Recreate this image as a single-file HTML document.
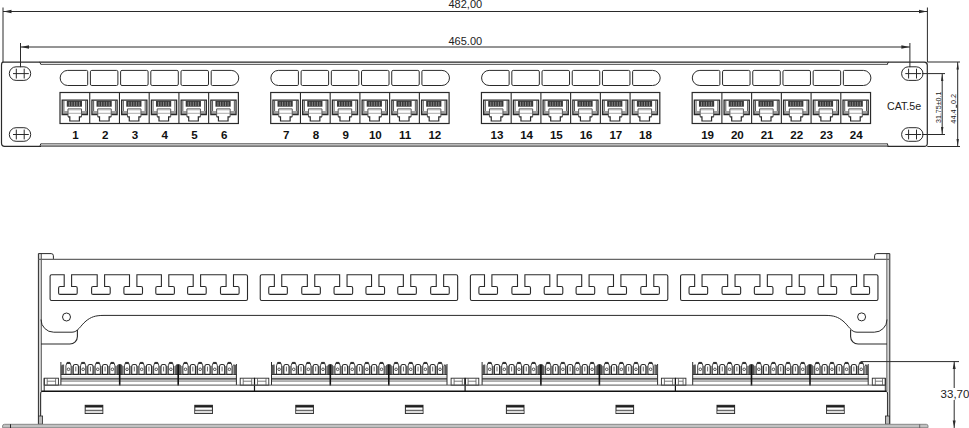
<!DOCTYPE html>
<html><head><meta charset="utf-8"><style>
html,body{margin:0;padding:0;background:#fff;width:969px;height:428px;overflow:hidden;}
svg{display:block;}
text{font-family:"Liberation Sans",sans-serif;fill:#222;}
</style></head><body>
<svg width="969" height="428" viewBox="0 0 969 428">
<line x1="3" y1="7.5" x2="3" y2="62.5" stroke="#2a2a2a" stroke-width="1"/>
<line x1="927.4" y1="7.5" x2="927.4" y2="62" stroke="#2a2a2a" stroke-width="1"/>
<line x1="3" y1="11.5" x2="927.4" y2="11.5" stroke="#2a2a2a" stroke-width="1"/>
<polygon points="3.5,11.5 11.5,9.8 11.5,13.2" fill="#2a2a2a"/>
<polygon points="927,11.5 919,9.8 919,13.2" fill="#2a2a2a"/>
<text x="465.3" y="7.8" font-size="11" font-weight="normal" text-anchor="middle" >482,00</text>
<line x1="20.5" y1="43" x2="20.5" y2="67.2" stroke="#2a2a2a" stroke-width="1"/>
<line x1="909.9" y1="43" x2="909.9" y2="67.2" stroke="#2a2a2a" stroke-width="1"/>
<line x1="20.5" y1="47" x2="909.9" y2="47" stroke="#2a2a2a" stroke-width="1"/>
<polygon points="21,47 29,45.3 29,48.7" fill="#2a2a2a"/>
<polygon points="909.4,47 901.4,45.3 901.4,48.7" fill="#2a2a2a"/>
<text x="465.3" y="44.6" font-size="11" font-weight="normal" text-anchor="middle" >465.00</text>
<rect x="40.5" y="62.6" width="847.5" height="1.6" rx="0" stroke="#2a2a2a" stroke-width="0" fill="#e2e2e2"/>
<rect x="40.5" y="143.8" width="847.5" height="2.4" rx="0" stroke="#2a2a2a" stroke-width="0" fill="#c4c4c4"/>
<path d="M3,62.1 H924.4 Q927.3,62.1 927.3,65.2 V143.2 Q927.3,146.4 924.3,146.4 H4.6 Q1.5,146.4 1.5,143.1 V65.3 Q1.5,62.1 3,62.1 Z" stroke="#2a2a2a" stroke-width="1.2" fill="none" />
<line x1="41" y1="64.5" x2="887.5" y2="64.5" stroke="#666" stroke-width="1.1"/>
<line x1="41" y1="143.6" x2="887.5" y2="143.6" stroke="#777" stroke-width="1.0"/>
<line x1="41" y1="146.4" x2="887.5" y2="146.4" stroke="#7a7a7a" stroke-width="1.3"/>
<path d="M39.3,62.1 Q40.3,62.4 40.8,64.5" stroke="#2a2a2a" stroke-width="1" fill="none" />
<path d="M888.8,62.1 Q887.8,62.4 887.3,64.5" stroke="#2a2a2a" stroke-width="1" fill="none" />
<path d="M39.3,146.4 Q40.3,146 40.8,143.6" stroke="#2a2a2a" stroke-width="1" fill="none" />
<path d="M888.8,146.4 Q887.8,146 887.3,143.6" stroke="#2a2a2a" stroke-width="1" fill="none" />
<rect x="9.3" y="66.8" width="21.4" height="13.6" rx="6.8" stroke="#2a2a2a" stroke-width="1" fill="none"/>
<line x1="13" y1="73.6" x2="28.8" y2="73.6" stroke="#2a2a2a" stroke-width="1"/>
<line x1="16.3" y1="68.7" x2="16.3" y2="78.5" stroke="#2a2a2a" stroke-width="1"/>
<line x1="24.2" y1="68.7" x2="24.2" y2="78.5" stroke="#2a2a2a" stroke-width="1"/>
<rect x="9.3" y="127.7" width="21.4" height="13.6" rx="6.8" stroke="#2a2a2a" stroke-width="1" fill="none"/>
<line x1="13" y1="134.5" x2="28.8" y2="134.5" stroke="#2a2a2a" stroke-width="1"/>
<line x1="16.3" y1="129.6" x2="16.3" y2="139.4" stroke="#2a2a2a" stroke-width="1"/>
<line x1="24.2" y1="129.6" x2="24.2" y2="139.4" stroke="#2a2a2a" stroke-width="1"/>
<rect x="901.6" y="66.8" width="21.4" height="13.6" rx="6.8" stroke="#2a2a2a" stroke-width="1" fill="none"/>
<line x1="905.3" y1="73.6" x2="921.1" y2="73.6" stroke="#2a2a2a" stroke-width="1"/>
<line x1="908.6" y1="68.7" x2="908.6" y2="78.5" stroke="#2a2a2a" stroke-width="1"/>
<line x1="916.5" y1="68.7" x2="916.5" y2="78.5" stroke="#2a2a2a" stroke-width="1"/>
<rect x="901.6" y="127.7" width="21.4" height="13.6" rx="6.8" stroke="#2a2a2a" stroke-width="1" fill="none"/>
<line x1="905.3" y1="134.5" x2="921.1" y2="134.5" stroke="#2a2a2a" stroke-width="1"/>
<line x1="908.6" y1="129.6" x2="908.6" y2="139.4" stroke="#2a2a2a" stroke-width="1"/>
<line x1="916.5" y1="129.6" x2="916.5" y2="139.4" stroke="#2a2a2a" stroke-width="1"/>
<line x1="922" y1="73.6" x2="945" y2="73.6" stroke="#2a2a2a" stroke-width="1"/>
<line x1="922" y1="134.5" x2="945" y2="134.5" stroke="#2a2a2a" stroke-width="1"/>
<line x1="927.3" y1="62" x2="960" y2="62" stroke="#2a2a2a" stroke-width="1"/>
<line x1="927.3" y1="146.5" x2="960" y2="146.5" stroke="#2a2a2a" stroke-width="1"/>
<line x1="942.2" y1="73.6" x2="942.2" y2="134.5" stroke="#2a2a2a" stroke-width="1"/>
<polygon points="942.2,74.1 941,81.1 943.4,81.1" fill="#2a2a2a"/>
<polygon points="942.2,134 941,127 943.4,127" fill="#2a2a2a"/>
<line x1="957.7" y1="62" x2="957.7" y2="146.5" stroke="#2a2a2a" stroke-width="1"/>
<polygon points="957.7,62.5 956.5,69.5 958.9,69.5" fill="#2a2a2a"/>
<polygon points="957.7,146 956.5,139 958.9,139" fill="#2a2a2a"/>
<text transform="translate(941.2,122.9) rotate(-90) scale(0.88,1)" font-size="8" text-anchor="start">31.75&#177;0.1</text>
<text transform="translate(955.6,123.7) rotate(-90) scale(0.92,1)" font-size="8" text-anchor="start">44.4</text>
<text transform="translate(955.6,103.9) rotate(-90) scale(0.9,1)" font-size="8" text-anchor="start">0.2</text>
<line x1="956.6" y1="104.8" x2="956.6" y2="107.8" stroke="#555" stroke-width="1.6"/>
<text x="887" y="109.7" font-size="11" font-weight="normal" text-anchor="start" textLength="34.2" lengthAdjust="spacingAndGlyphs">CAT.5e</text>
<path d="M67.7,70.4 H86.5 Q87.7,70.4 87.7,71.6 V84.3 Q87.7,85.5 86.5,85.5 H67.7 A7.55,7.55 0 0 1 67.7,70.4 Z" stroke="#2a2a2a" stroke-width="1" fill="none" />
<rect x="90.4" y="70.4" width="27.5" height="15.1" rx="1.4" stroke="#2a2a2a" stroke-width="1" fill="none"/>
<rect x="120.6" y="70.4" width="27.5" height="15.1" rx="1.4" stroke="#2a2a2a" stroke-width="1" fill="none"/>
<rect x="150.8" y="70.4" width="27.5" height="15.1" rx="1.4" stroke="#2a2a2a" stroke-width="1" fill="none"/>
<rect x="181" y="70.4" width="27.5" height="15.1" rx="1.4" stroke="#2a2a2a" stroke-width="1" fill="none"/>
<path d="M212.4,70.4 H231.2 A7.55,7.55 0 0 1 231.2,85.5 H212.4 Q211.2,85.5 211.2,84.3 V71.6 Q211.2,70.4 212.4,70.4 Z" stroke="#2a2a2a" stroke-width="1" fill="none" />
<rect x="60" y="92.5" width="178.38" height="31" rx="0" stroke="#2a2a2a" stroke-width="1.2" fill="none"/>
<line x1="89.73" y1="92.5" x2="89.73" y2="123.5" stroke="#2a2a2a" stroke-width="1.1"/>
<line x1="119.46" y1="92.5" x2="119.46" y2="123.5" stroke="#2a2a2a" stroke-width="1.1"/>
<line x1="149.19" y1="92.5" x2="149.19" y2="123.5" stroke="#2a2a2a" stroke-width="1.1"/>
<line x1="178.92" y1="92.5" x2="178.92" y2="123.5" stroke="#2a2a2a" stroke-width="1.1"/>
<line x1="208.65" y1="92.5" x2="208.65" y2="123.5" stroke="#2a2a2a" stroke-width="1.1"/>
<rect x="62.6" y="111" width="5.2" height="3" rx="0" stroke="#2a2a2a" stroke-width="0" fill="#a0a0a0"/>
<rect x="81.6" y="111" width="5.4" height="3" rx="0" stroke="#2a2a2a" stroke-width="0" fill="#a0a0a0"/>
<rect x="66.8" y="100.9" width="15.2" height="5.8" rx="0" stroke="#2a2a2a" stroke-width="0" fill="#383838"/>
<line x1="69.33" y1="101.8" x2="69.33" y2="106.2" stroke="#9a9a9a" stroke-width="0.8"/>
<line x1="71.87" y1="101.8" x2="71.87" y2="106.2" stroke="#9a9a9a" stroke-width="0.8"/>
<line x1="74.4" y1="101.8" x2="74.4" y2="106.2" stroke="#9a9a9a" stroke-width="0.8"/>
<line x1="76.93" y1="101.8" x2="76.93" y2="106.2" stroke="#9a9a9a" stroke-width="0.8"/>
<line x1="79.47" y1="101.8" x2="79.47" y2="106.2" stroke="#9a9a9a" stroke-width="0.8"/>
<path d="M68,114.5 H62.2 V100.1 H87.4 V114.5 H81.5" stroke="#2a2a2a" stroke-width="1.3" fill="none" />
<line x1="63.9" y1="100.6" x2="63.9" y2="111" stroke="#2a2a2a" stroke-width="0.8"/>
<line x1="85.7" y1="100.6" x2="85.7" y2="111" stroke="#2a2a2a" stroke-width="0.8"/>
<path d="M68,116.8 V108.9 H81.5 V116.8" stroke="#555" stroke-width="1.0" fill="none" />
<path d="M68,116.8 H69.8 V121.0 H79.4 V116.8 H81.5" stroke="#2a2a2a" stroke-width="1.2" fill="none" />
<line x1="68" y1="113.3" x2="81.5" y2="113.3" stroke="#888" stroke-width="0.7"/>
<line x1="68.6" y1="110" x2="80.9" y2="110" stroke="#aaa" stroke-width="0.6"/>
<text x="75.46" y="138.9" font-size="11.6" font-weight="bold" text-anchor="middle" style="fill:#111">1</text>
<rect x="92.33" y="111" width="5.2" height="3" rx="0" stroke="#2a2a2a" stroke-width="0" fill="#a0a0a0"/>
<rect x="111.33" y="111" width="5.4" height="3" rx="0" stroke="#2a2a2a" stroke-width="0" fill="#a0a0a0"/>
<rect x="96.53" y="100.9" width="15.2" height="5.8" rx="0" stroke="#2a2a2a" stroke-width="0" fill="#383838"/>
<line x1="99.06" y1="101.8" x2="99.06" y2="106.2" stroke="#9a9a9a" stroke-width="0.8"/>
<line x1="101.6" y1="101.8" x2="101.6" y2="106.2" stroke="#9a9a9a" stroke-width="0.8"/>
<line x1="104.13" y1="101.8" x2="104.13" y2="106.2" stroke="#9a9a9a" stroke-width="0.8"/>
<line x1="106.66" y1="101.8" x2="106.66" y2="106.2" stroke="#9a9a9a" stroke-width="0.8"/>
<line x1="109.2" y1="101.8" x2="109.2" y2="106.2" stroke="#9a9a9a" stroke-width="0.8"/>
<path d="M97.73,114.5 H91.93 V100.1 H117.13 V114.5 H111.23" stroke="#2a2a2a" stroke-width="1.3" fill="none" />
<line x1="93.63" y1="100.6" x2="93.63" y2="111" stroke="#2a2a2a" stroke-width="0.8"/>
<line x1="115.43" y1="100.6" x2="115.43" y2="111" stroke="#2a2a2a" stroke-width="0.8"/>
<path d="M97.73,116.8 V108.9 H111.23 V116.8" stroke="#555" stroke-width="1.0" fill="none" />
<path d="M97.73,116.8 H99.53 V121.0 H109.13 V116.8 H111.23" stroke="#2a2a2a" stroke-width="1.2" fill="none" />
<line x1="97.73" y1="113.3" x2="111.23" y2="113.3" stroke="#888" stroke-width="0.7"/>
<line x1="98.33" y1="110" x2="110.63" y2="110" stroke="#aaa" stroke-width="0.6"/>
<text x="105.19" y="138.9" font-size="11.6" font-weight="bold" text-anchor="middle" style="fill:#111">2</text>
<rect x="122.06" y="111" width="5.2" height="3" rx="0" stroke="#2a2a2a" stroke-width="0" fill="#a0a0a0"/>
<rect x="141.06" y="111" width="5.4" height="3" rx="0" stroke="#2a2a2a" stroke-width="0" fill="#a0a0a0"/>
<rect x="126.26" y="100.9" width="15.2" height="5.8" rx="0" stroke="#2a2a2a" stroke-width="0" fill="#383838"/>
<line x1="128.79" y1="101.8" x2="128.79" y2="106.2" stroke="#9a9a9a" stroke-width="0.8"/>
<line x1="131.33" y1="101.8" x2="131.33" y2="106.2" stroke="#9a9a9a" stroke-width="0.8"/>
<line x1="133.86" y1="101.8" x2="133.86" y2="106.2" stroke="#9a9a9a" stroke-width="0.8"/>
<line x1="136.39" y1="101.8" x2="136.39" y2="106.2" stroke="#9a9a9a" stroke-width="0.8"/>
<line x1="138.93" y1="101.8" x2="138.93" y2="106.2" stroke="#9a9a9a" stroke-width="0.8"/>
<path d="M127.46,114.5 H121.66 V100.1 H146.86 V114.5 H140.96" stroke="#2a2a2a" stroke-width="1.3" fill="none" />
<line x1="123.36" y1="100.6" x2="123.36" y2="111" stroke="#2a2a2a" stroke-width="0.8"/>
<line x1="145.16" y1="100.6" x2="145.16" y2="111" stroke="#2a2a2a" stroke-width="0.8"/>
<path d="M127.46,116.8 V108.9 H140.96 V116.8" stroke="#555" stroke-width="1.0" fill="none" />
<path d="M127.46,116.8 H129.26 V121.0 H138.86 V116.8 H140.96" stroke="#2a2a2a" stroke-width="1.2" fill="none" />
<line x1="127.46" y1="113.3" x2="140.96" y2="113.3" stroke="#888" stroke-width="0.7"/>
<line x1="128.06" y1="110" x2="140.36" y2="110" stroke="#aaa" stroke-width="0.6"/>
<text x="134.93" y="138.9" font-size="11.6" font-weight="bold" text-anchor="middle" style="fill:#111">3</text>
<rect x="151.79" y="111" width="5.2" height="3" rx="0" stroke="#2a2a2a" stroke-width="0" fill="#a0a0a0"/>
<rect x="170.79" y="111" width="5.4" height="3" rx="0" stroke="#2a2a2a" stroke-width="0" fill="#a0a0a0"/>
<rect x="155.99" y="100.9" width="15.2" height="5.8" rx="0" stroke="#2a2a2a" stroke-width="0" fill="#383838"/>
<line x1="158.52" y1="101.8" x2="158.52" y2="106.2" stroke="#9a9a9a" stroke-width="0.8"/>
<line x1="161.06" y1="101.8" x2="161.06" y2="106.2" stroke="#9a9a9a" stroke-width="0.8"/>
<line x1="163.59" y1="101.8" x2="163.59" y2="106.2" stroke="#9a9a9a" stroke-width="0.8"/>
<line x1="166.12" y1="101.8" x2="166.12" y2="106.2" stroke="#9a9a9a" stroke-width="0.8"/>
<line x1="168.66" y1="101.8" x2="168.66" y2="106.2" stroke="#9a9a9a" stroke-width="0.8"/>
<path d="M157.19,114.5 H151.39 V100.1 H176.59 V114.5 H170.69" stroke="#2a2a2a" stroke-width="1.3" fill="none" />
<line x1="153.09" y1="100.6" x2="153.09" y2="111" stroke="#2a2a2a" stroke-width="0.8"/>
<line x1="174.89" y1="100.6" x2="174.89" y2="111" stroke="#2a2a2a" stroke-width="0.8"/>
<path d="M157.19,116.8 V108.9 H170.69 V116.8" stroke="#555" stroke-width="1.0" fill="none" />
<path d="M157.19,116.8 H158.99 V121.0 H168.59 V116.8 H170.69" stroke="#2a2a2a" stroke-width="1.2" fill="none" />
<line x1="157.19" y1="113.3" x2="170.69" y2="113.3" stroke="#888" stroke-width="0.7"/>
<line x1="157.79" y1="110" x2="170.09" y2="110" stroke="#aaa" stroke-width="0.6"/>
<text x="164.66" y="138.9" font-size="11.6" font-weight="bold" text-anchor="middle" style="fill:#111">4</text>
<rect x="181.52" y="111" width="5.2" height="3" rx="0" stroke="#2a2a2a" stroke-width="0" fill="#a0a0a0"/>
<rect x="200.52" y="111" width="5.4" height="3" rx="0" stroke="#2a2a2a" stroke-width="0" fill="#a0a0a0"/>
<rect x="185.72" y="100.9" width="15.2" height="5.8" rx="0" stroke="#2a2a2a" stroke-width="0" fill="#383838"/>
<line x1="188.25" y1="101.8" x2="188.25" y2="106.2" stroke="#9a9a9a" stroke-width="0.8"/>
<line x1="190.79" y1="101.8" x2="190.79" y2="106.2" stroke="#9a9a9a" stroke-width="0.8"/>
<line x1="193.32" y1="101.8" x2="193.32" y2="106.2" stroke="#9a9a9a" stroke-width="0.8"/>
<line x1="195.85" y1="101.8" x2="195.85" y2="106.2" stroke="#9a9a9a" stroke-width="0.8"/>
<line x1="198.39" y1="101.8" x2="198.39" y2="106.2" stroke="#9a9a9a" stroke-width="0.8"/>
<path d="M186.92,114.5 H181.12 V100.1 H206.32 V114.5 H200.42" stroke="#2a2a2a" stroke-width="1.3" fill="none" />
<line x1="182.82" y1="100.6" x2="182.82" y2="111" stroke="#2a2a2a" stroke-width="0.8"/>
<line x1="204.62" y1="100.6" x2="204.62" y2="111" stroke="#2a2a2a" stroke-width="0.8"/>
<path d="M186.92,116.8 V108.9 H200.42 V116.8" stroke="#555" stroke-width="1.0" fill="none" />
<path d="M186.92,116.8 H188.72 V121.0 H198.32 V116.8 H200.42" stroke="#2a2a2a" stroke-width="1.2" fill="none" />
<line x1="186.92" y1="113.3" x2="200.42" y2="113.3" stroke="#888" stroke-width="0.7"/>
<line x1="187.52" y1="110" x2="199.82" y2="110" stroke="#aaa" stroke-width="0.6"/>
<text x="194.39" y="138.9" font-size="11.6" font-weight="bold" text-anchor="middle" style="fill:#111">5</text>
<rect x="211.25" y="111" width="5.2" height="3" rx="0" stroke="#2a2a2a" stroke-width="0" fill="#a0a0a0"/>
<rect x="230.25" y="111" width="5.4" height="3" rx="0" stroke="#2a2a2a" stroke-width="0" fill="#a0a0a0"/>
<rect x="215.45" y="100.9" width="15.2" height="5.8" rx="0" stroke="#2a2a2a" stroke-width="0" fill="#383838"/>
<line x1="217.98" y1="101.8" x2="217.98" y2="106.2" stroke="#9a9a9a" stroke-width="0.8"/>
<line x1="220.52" y1="101.8" x2="220.52" y2="106.2" stroke="#9a9a9a" stroke-width="0.8"/>
<line x1="223.05" y1="101.8" x2="223.05" y2="106.2" stroke="#9a9a9a" stroke-width="0.8"/>
<line x1="225.58" y1="101.8" x2="225.58" y2="106.2" stroke="#9a9a9a" stroke-width="0.8"/>
<line x1="228.12" y1="101.8" x2="228.12" y2="106.2" stroke="#9a9a9a" stroke-width="0.8"/>
<path d="M216.65,114.5 H210.85 V100.1 H236.05 V114.5 H230.15" stroke="#2a2a2a" stroke-width="1.3" fill="none" />
<line x1="212.55" y1="100.6" x2="212.55" y2="111" stroke="#2a2a2a" stroke-width="0.8"/>
<line x1="234.35" y1="100.6" x2="234.35" y2="111" stroke="#2a2a2a" stroke-width="0.8"/>
<path d="M216.65,116.8 V108.9 H230.15 V116.8" stroke="#555" stroke-width="1.0" fill="none" />
<path d="M216.65,116.8 H218.45 V121.0 H228.05 V116.8 H230.15" stroke="#2a2a2a" stroke-width="1.2" fill="none" />
<line x1="216.65" y1="113.3" x2="230.15" y2="113.3" stroke="#888" stroke-width="0.7"/>
<line x1="217.25" y1="110" x2="229.55" y2="110" stroke="#aaa" stroke-width="0.6"/>
<text x="224.12" y="138.9" font-size="11.6" font-weight="bold" text-anchor="middle" style="fill:#111">6</text>
<path d="M278.42,70.4 H297.22 Q298.42,70.4 298.42,71.6 V84.3 Q298.42,85.5 297.22,85.5 H278.42 A7.55,7.55 0 0 1 278.42,70.4 Z" stroke="#2a2a2a" stroke-width="1" fill="none" />
<rect x="301.12" y="70.4" width="27.5" height="15.1" rx="1.4" stroke="#2a2a2a" stroke-width="1" fill="none"/>
<rect x="331.32" y="70.4" width="27.5" height="15.1" rx="1.4" stroke="#2a2a2a" stroke-width="1" fill="none"/>
<rect x="361.52" y="70.4" width="27.5" height="15.1" rx="1.4" stroke="#2a2a2a" stroke-width="1" fill="none"/>
<rect x="391.72" y="70.4" width="27.5" height="15.1" rx="1.4" stroke="#2a2a2a" stroke-width="1" fill="none"/>
<path d="M423.12,70.4 H441.92 A7.55,7.55 0 0 1 441.92,85.5 H423.12 Q421.92,85.5 421.92,84.3 V71.6 Q421.92,70.4 423.12,70.4 Z" stroke="#2a2a2a" stroke-width="1" fill="none" />
<rect x="270.72" y="92.5" width="178.38" height="31" rx="0" stroke="#2a2a2a" stroke-width="1.2" fill="none"/>
<line x1="300.45" y1="92.5" x2="300.45" y2="123.5" stroke="#2a2a2a" stroke-width="1.1"/>
<line x1="330.18" y1="92.5" x2="330.18" y2="123.5" stroke="#2a2a2a" stroke-width="1.1"/>
<line x1="359.91" y1="92.5" x2="359.91" y2="123.5" stroke="#2a2a2a" stroke-width="1.1"/>
<line x1="389.64" y1="92.5" x2="389.64" y2="123.5" stroke="#2a2a2a" stroke-width="1.1"/>
<line x1="419.37" y1="92.5" x2="419.37" y2="123.5" stroke="#2a2a2a" stroke-width="1.1"/>
<rect x="273.32" y="111" width="5.2" height="3" rx="0" stroke="#2a2a2a" stroke-width="0" fill="#a0a0a0"/>
<rect x="292.32" y="111" width="5.4" height="3" rx="0" stroke="#2a2a2a" stroke-width="0" fill="#a0a0a0"/>
<rect x="277.52" y="100.9" width="15.2" height="5.8" rx="0" stroke="#2a2a2a" stroke-width="0" fill="#383838"/>
<line x1="280.05" y1="101.8" x2="280.05" y2="106.2" stroke="#9a9a9a" stroke-width="0.8"/>
<line x1="282.59" y1="101.8" x2="282.59" y2="106.2" stroke="#9a9a9a" stroke-width="0.8"/>
<line x1="285.12" y1="101.8" x2="285.12" y2="106.2" stroke="#9a9a9a" stroke-width="0.8"/>
<line x1="287.65" y1="101.8" x2="287.65" y2="106.2" stroke="#9a9a9a" stroke-width="0.8"/>
<line x1="290.19" y1="101.8" x2="290.19" y2="106.2" stroke="#9a9a9a" stroke-width="0.8"/>
<path d="M278.72,114.5 H272.92 V100.1 H298.12 V114.5 H292.22" stroke="#2a2a2a" stroke-width="1.3" fill="none" />
<line x1="274.62" y1="100.6" x2="274.62" y2="111" stroke="#2a2a2a" stroke-width="0.8"/>
<line x1="296.42" y1="100.6" x2="296.42" y2="111" stroke="#2a2a2a" stroke-width="0.8"/>
<path d="M278.72,116.8 V108.9 H292.22 V116.8" stroke="#555" stroke-width="1.0" fill="none" />
<path d="M278.72,116.8 H280.52 V121.0 H290.12 V116.8 H292.22" stroke="#2a2a2a" stroke-width="1.2" fill="none" />
<line x1="278.72" y1="113.3" x2="292.22" y2="113.3" stroke="#888" stroke-width="0.7"/>
<line x1="279.32" y1="110" x2="291.62" y2="110" stroke="#aaa" stroke-width="0.6"/>
<text x="286.19" y="138.9" font-size="11.6" font-weight="bold" text-anchor="middle" style="fill:#111">7</text>
<rect x="303.05" y="111" width="5.2" height="3" rx="0" stroke="#2a2a2a" stroke-width="0" fill="#a0a0a0"/>
<rect x="322.05" y="111" width="5.4" height="3" rx="0" stroke="#2a2a2a" stroke-width="0" fill="#a0a0a0"/>
<rect x="307.25" y="100.9" width="15.2" height="5.8" rx="0" stroke="#2a2a2a" stroke-width="0" fill="#383838"/>
<line x1="309.78" y1="101.8" x2="309.78" y2="106.2" stroke="#9a9a9a" stroke-width="0.8"/>
<line x1="312.32" y1="101.8" x2="312.32" y2="106.2" stroke="#9a9a9a" stroke-width="0.8"/>
<line x1="314.85" y1="101.8" x2="314.85" y2="106.2" stroke="#9a9a9a" stroke-width="0.8"/>
<line x1="317.38" y1="101.8" x2="317.38" y2="106.2" stroke="#9a9a9a" stroke-width="0.8"/>
<line x1="319.92" y1="101.8" x2="319.92" y2="106.2" stroke="#9a9a9a" stroke-width="0.8"/>
<path d="M308.45,114.5 H302.65 V100.1 H327.85 V114.5 H321.95" stroke="#2a2a2a" stroke-width="1.3" fill="none" />
<line x1="304.35" y1="100.6" x2="304.35" y2="111" stroke="#2a2a2a" stroke-width="0.8"/>
<line x1="326.15" y1="100.6" x2="326.15" y2="111" stroke="#2a2a2a" stroke-width="0.8"/>
<path d="M308.45,116.8 V108.9 H321.95 V116.8" stroke="#555" stroke-width="1.0" fill="none" />
<path d="M308.45,116.8 H310.25 V121.0 H319.85 V116.8 H321.95" stroke="#2a2a2a" stroke-width="1.2" fill="none" />
<line x1="308.45" y1="113.3" x2="321.95" y2="113.3" stroke="#888" stroke-width="0.7"/>
<line x1="309.05" y1="110" x2="321.35" y2="110" stroke="#aaa" stroke-width="0.6"/>
<text x="315.92" y="138.9" font-size="11.6" font-weight="bold" text-anchor="middle" style="fill:#111">8</text>
<rect x="332.78" y="111" width="5.2" height="3" rx="0" stroke="#2a2a2a" stroke-width="0" fill="#a0a0a0"/>
<rect x="351.78" y="111" width="5.4" height="3" rx="0" stroke="#2a2a2a" stroke-width="0" fill="#a0a0a0"/>
<rect x="336.98" y="100.9" width="15.2" height="5.8" rx="0" stroke="#2a2a2a" stroke-width="0" fill="#383838"/>
<line x1="339.51" y1="101.8" x2="339.51" y2="106.2" stroke="#9a9a9a" stroke-width="0.8"/>
<line x1="342.05" y1="101.8" x2="342.05" y2="106.2" stroke="#9a9a9a" stroke-width="0.8"/>
<line x1="344.58" y1="101.8" x2="344.58" y2="106.2" stroke="#9a9a9a" stroke-width="0.8"/>
<line x1="347.11" y1="101.8" x2="347.11" y2="106.2" stroke="#9a9a9a" stroke-width="0.8"/>
<line x1="349.65" y1="101.8" x2="349.65" y2="106.2" stroke="#9a9a9a" stroke-width="0.8"/>
<path d="M338.18,114.5 H332.38 V100.1 H357.58 V114.5 H351.68" stroke="#2a2a2a" stroke-width="1.3" fill="none" />
<line x1="334.08" y1="100.6" x2="334.08" y2="111" stroke="#2a2a2a" stroke-width="0.8"/>
<line x1="355.88" y1="100.6" x2="355.88" y2="111" stroke="#2a2a2a" stroke-width="0.8"/>
<path d="M338.18,116.8 V108.9 H351.68 V116.8" stroke="#555" stroke-width="1.0" fill="none" />
<path d="M338.18,116.8 H339.98 V121.0 H349.58 V116.8 H351.68" stroke="#2a2a2a" stroke-width="1.2" fill="none" />
<line x1="338.18" y1="113.3" x2="351.68" y2="113.3" stroke="#888" stroke-width="0.7"/>
<line x1="338.78" y1="110" x2="351.08" y2="110" stroke="#aaa" stroke-width="0.6"/>
<text x="345.65" y="138.9" font-size="11.6" font-weight="bold" text-anchor="middle" style="fill:#111">9</text>
<rect x="362.51" y="111" width="5.2" height="3" rx="0" stroke="#2a2a2a" stroke-width="0" fill="#a0a0a0"/>
<rect x="381.51" y="111" width="5.4" height="3" rx="0" stroke="#2a2a2a" stroke-width="0" fill="#a0a0a0"/>
<rect x="366.71" y="100.9" width="15.2" height="5.8" rx="0" stroke="#2a2a2a" stroke-width="0" fill="#383838"/>
<line x1="369.24" y1="101.8" x2="369.24" y2="106.2" stroke="#9a9a9a" stroke-width="0.8"/>
<line x1="371.78" y1="101.8" x2="371.78" y2="106.2" stroke="#9a9a9a" stroke-width="0.8"/>
<line x1="374.31" y1="101.8" x2="374.31" y2="106.2" stroke="#9a9a9a" stroke-width="0.8"/>
<line x1="376.84" y1="101.8" x2="376.84" y2="106.2" stroke="#9a9a9a" stroke-width="0.8"/>
<line x1="379.38" y1="101.8" x2="379.38" y2="106.2" stroke="#9a9a9a" stroke-width="0.8"/>
<path d="M367.91,114.5 H362.11 V100.1 H387.31 V114.5 H381.41" stroke="#2a2a2a" stroke-width="1.3" fill="none" />
<line x1="363.81" y1="100.6" x2="363.81" y2="111" stroke="#2a2a2a" stroke-width="0.8"/>
<line x1="385.61" y1="100.6" x2="385.61" y2="111" stroke="#2a2a2a" stroke-width="0.8"/>
<path d="M367.91,116.8 V108.9 H381.41 V116.8" stroke="#555" stroke-width="1.0" fill="none" />
<path d="M367.91,116.8 H369.71 V121.0 H379.31 V116.8 H381.41" stroke="#2a2a2a" stroke-width="1.2" fill="none" />
<line x1="367.91" y1="113.3" x2="381.41" y2="113.3" stroke="#888" stroke-width="0.7"/>
<line x1="368.51" y1="110" x2="380.81" y2="110" stroke="#aaa" stroke-width="0.6"/>
<text x="375.38" y="138.9" font-size="11.6" font-weight="bold" text-anchor="middle" style="fill:#111">10</text>
<rect x="392.24" y="111" width="5.2" height="3" rx="0" stroke="#2a2a2a" stroke-width="0" fill="#a0a0a0"/>
<rect x="411.24" y="111" width="5.4" height="3" rx="0" stroke="#2a2a2a" stroke-width="0" fill="#a0a0a0"/>
<rect x="396.44" y="100.9" width="15.2" height="5.8" rx="0" stroke="#2a2a2a" stroke-width="0" fill="#383838"/>
<line x1="398.97" y1="101.8" x2="398.97" y2="106.2" stroke="#9a9a9a" stroke-width="0.8"/>
<line x1="401.51" y1="101.8" x2="401.51" y2="106.2" stroke="#9a9a9a" stroke-width="0.8"/>
<line x1="404.04" y1="101.8" x2="404.04" y2="106.2" stroke="#9a9a9a" stroke-width="0.8"/>
<line x1="406.57" y1="101.8" x2="406.57" y2="106.2" stroke="#9a9a9a" stroke-width="0.8"/>
<line x1="409.11" y1="101.8" x2="409.11" y2="106.2" stroke="#9a9a9a" stroke-width="0.8"/>
<path d="M397.64,114.5 H391.84 V100.1 H417.04 V114.5 H411.14" stroke="#2a2a2a" stroke-width="1.3" fill="none" />
<line x1="393.54" y1="100.6" x2="393.54" y2="111" stroke="#2a2a2a" stroke-width="0.8"/>
<line x1="415.34" y1="100.6" x2="415.34" y2="111" stroke="#2a2a2a" stroke-width="0.8"/>
<path d="M397.64,116.8 V108.9 H411.14 V116.8" stroke="#555" stroke-width="1.0" fill="none" />
<path d="M397.64,116.8 H399.44 V121.0 H409.04 V116.8 H411.14" stroke="#2a2a2a" stroke-width="1.2" fill="none" />
<line x1="397.64" y1="113.3" x2="411.14" y2="113.3" stroke="#888" stroke-width="0.7"/>
<line x1="398.24" y1="110" x2="410.54" y2="110" stroke="#aaa" stroke-width="0.6"/>
<text x="405.11" y="138.9" font-size="11.6" font-weight="bold" text-anchor="middle" style="fill:#111">11</text>
<rect x="421.97" y="111" width="5.2" height="3" rx="0" stroke="#2a2a2a" stroke-width="0" fill="#a0a0a0"/>
<rect x="440.97" y="111" width="5.4" height="3" rx="0" stroke="#2a2a2a" stroke-width="0" fill="#a0a0a0"/>
<rect x="426.17" y="100.9" width="15.2" height="5.8" rx="0" stroke="#2a2a2a" stroke-width="0" fill="#383838"/>
<line x1="428.7" y1="101.8" x2="428.7" y2="106.2" stroke="#9a9a9a" stroke-width="0.8"/>
<line x1="431.24" y1="101.8" x2="431.24" y2="106.2" stroke="#9a9a9a" stroke-width="0.8"/>
<line x1="433.77" y1="101.8" x2="433.77" y2="106.2" stroke="#9a9a9a" stroke-width="0.8"/>
<line x1="436.3" y1="101.8" x2="436.3" y2="106.2" stroke="#9a9a9a" stroke-width="0.8"/>
<line x1="438.84" y1="101.8" x2="438.84" y2="106.2" stroke="#9a9a9a" stroke-width="0.8"/>
<path d="M427.37,114.5 H421.57 V100.1 H446.77 V114.5 H440.87" stroke="#2a2a2a" stroke-width="1.3" fill="none" />
<line x1="423.27" y1="100.6" x2="423.27" y2="111" stroke="#2a2a2a" stroke-width="0.8"/>
<line x1="445.07" y1="100.6" x2="445.07" y2="111" stroke="#2a2a2a" stroke-width="0.8"/>
<path d="M427.37,116.8 V108.9 H440.87 V116.8" stroke="#555" stroke-width="1.0" fill="none" />
<path d="M427.37,116.8 H429.17 V121.0 H438.77 V116.8 H440.87" stroke="#2a2a2a" stroke-width="1.2" fill="none" />
<line x1="427.37" y1="113.3" x2="440.87" y2="113.3" stroke="#888" stroke-width="0.7"/>
<line x1="427.97" y1="110" x2="440.27" y2="110" stroke="#aaa" stroke-width="0.6"/>
<text x="434.84" y="138.9" font-size="11.6" font-weight="bold" text-anchor="middle" style="fill:#111">12</text>
<path d="M489.14,70.4 H507.94 Q509.14,70.4 509.14,71.6 V84.3 Q509.14,85.5 507.94,85.5 H489.14 A7.55,7.55 0 0 1 489.14,70.4 Z" stroke="#2a2a2a" stroke-width="1" fill="none" />
<rect x="511.84" y="70.4" width="27.5" height="15.1" rx="1.4" stroke="#2a2a2a" stroke-width="1" fill="none"/>
<rect x="542.04" y="70.4" width="27.5" height="15.1" rx="1.4" stroke="#2a2a2a" stroke-width="1" fill="none"/>
<rect x="572.24" y="70.4" width="27.5" height="15.1" rx="1.4" stroke="#2a2a2a" stroke-width="1" fill="none"/>
<rect x="602.44" y="70.4" width="27.5" height="15.1" rx="1.4" stroke="#2a2a2a" stroke-width="1" fill="none"/>
<path d="M633.84,70.4 H652.64 A7.55,7.55 0 0 1 652.64,85.5 H633.84 Q632.64,85.5 632.64,84.3 V71.6 Q632.64,70.4 633.84,70.4 Z" stroke="#2a2a2a" stroke-width="1" fill="none" />
<rect x="481.44" y="92.5" width="178.38" height="31" rx="0" stroke="#2a2a2a" stroke-width="1.2" fill="none"/>
<line x1="511.17" y1="92.5" x2="511.17" y2="123.5" stroke="#2a2a2a" stroke-width="1.1"/>
<line x1="540.9" y1="92.5" x2="540.9" y2="123.5" stroke="#2a2a2a" stroke-width="1.1"/>
<line x1="570.63" y1="92.5" x2="570.63" y2="123.5" stroke="#2a2a2a" stroke-width="1.1"/>
<line x1="600.36" y1="92.5" x2="600.36" y2="123.5" stroke="#2a2a2a" stroke-width="1.1"/>
<line x1="630.09" y1="92.5" x2="630.09" y2="123.5" stroke="#2a2a2a" stroke-width="1.1"/>
<rect x="484.04" y="111" width="5.2" height="3" rx="0" stroke="#2a2a2a" stroke-width="0" fill="#a0a0a0"/>
<rect x="503.04" y="111" width="5.4" height="3" rx="0" stroke="#2a2a2a" stroke-width="0" fill="#a0a0a0"/>
<rect x="488.24" y="100.9" width="15.2" height="5.8" rx="0" stroke="#2a2a2a" stroke-width="0" fill="#383838"/>
<line x1="490.77" y1="101.8" x2="490.77" y2="106.2" stroke="#9a9a9a" stroke-width="0.8"/>
<line x1="493.31" y1="101.8" x2="493.31" y2="106.2" stroke="#9a9a9a" stroke-width="0.8"/>
<line x1="495.84" y1="101.8" x2="495.84" y2="106.2" stroke="#9a9a9a" stroke-width="0.8"/>
<line x1="498.37" y1="101.8" x2="498.37" y2="106.2" stroke="#9a9a9a" stroke-width="0.8"/>
<line x1="500.91" y1="101.8" x2="500.91" y2="106.2" stroke="#9a9a9a" stroke-width="0.8"/>
<path d="M489.44,114.5 H483.64 V100.1 H508.84 V114.5 H502.94" stroke="#2a2a2a" stroke-width="1.3" fill="none" />
<line x1="485.34" y1="100.6" x2="485.34" y2="111" stroke="#2a2a2a" stroke-width="0.8"/>
<line x1="507.14" y1="100.6" x2="507.14" y2="111" stroke="#2a2a2a" stroke-width="0.8"/>
<path d="M489.44,116.8 V108.9 H502.94 V116.8" stroke="#555" stroke-width="1.0" fill="none" />
<path d="M489.44,116.8 H491.24 V121.0 H500.84 V116.8 H502.94" stroke="#2a2a2a" stroke-width="1.2" fill="none" />
<line x1="489.44" y1="113.3" x2="502.94" y2="113.3" stroke="#888" stroke-width="0.7"/>
<line x1="490.04" y1="110" x2="502.34" y2="110" stroke="#aaa" stroke-width="0.6"/>
<text x="496.91" y="138.9" font-size="11.6" font-weight="bold" text-anchor="middle" style="fill:#111">13</text>
<rect x="513.77" y="111" width="5.2" height="3" rx="0" stroke="#2a2a2a" stroke-width="0" fill="#a0a0a0"/>
<rect x="532.77" y="111" width="5.4" height="3" rx="0" stroke="#2a2a2a" stroke-width="0" fill="#a0a0a0"/>
<rect x="517.97" y="100.9" width="15.2" height="5.8" rx="0" stroke="#2a2a2a" stroke-width="0" fill="#383838"/>
<line x1="520.5" y1="101.8" x2="520.5" y2="106.2" stroke="#9a9a9a" stroke-width="0.8"/>
<line x1="523.04" y1="101.8" x2="523.04" y2="106.2" stroke="#9a9a9a" stroke-width="0.8"/>
<line x1="525.57" y1="101.8" x2="525.57" y2="106.2" stroke="#9a9a9a" stroke-width="0.8"/>
<line x1="528.1" y1="101.8" x2="528.1" y2="106.2" stroke="#9a9a9a" stroke-width="0.8"/>
<line x1="530.64" y1="101.8" x2="530.64" y2="106.2" stroke="#9a9a9a" stroke-width="0.8"/>
<path d="M519.17,114.5 H513.37 V100.1 H538.57 V114.5 H532.67" stroke="#2a2a2a" stroke-width="1.3" fill="none" />
<line x1="515.07" y1="100.6" x2="515.07" y2="111" stroke="#2a2a2a" stroke-width="0.8"/>
<line x1="536.87" y1="100.6" x2="536.87" y2="111" stroke="#2a2a2a" stroke-width="0.8"/>
<path d="M519.17,116.8 V108.9 H532.67 V116.8" stroke="#555" stroke-width="1.0" fill="none" />
<path d="M519.17,116.8 H520.97 V121.0 H530.57 V116.8 H532.67" stroke="#2a2a2a" stroke-width="1.2" fill="none" />
<line x1="519.17" y1="113.3" x2="532.67" y2="113.3" stroke="#888" stroke-width="0.7"/>
<line x1="519.77" y1="110" x2="532.07" y2="110" stroke="#aaa" stroke-width="0.6"/>
<text x="526.63" y="138.9" font-size="11.6" font-weight="bold" text-anchor="middle" style="fill:#111">14</text>
<rect x="543.5" y="111" width="5.2" height="3" rx="0" stroke="#2a2a2a" stroke-width="0" fill="#a0a0a0"/>
<rect x="562.5" y="111" width="5.4" height="3" rx="0" stroke="#2a2a2a" stroke-width="0" fill="#a0a0a0"/>
<rect x="547.7" y="100.9" width="15.2" height="5.8" rx="0" stroke="#2a2a2a" stroke-width="0" fill="#383838"/>
<line x1="550.23" y1="101.8" x2="550.23" y2="106.2" stroke="#9a9a9a" stroke-width="0.8"/>
<line x1="552.77" y1="101.8" x2="552.77" y2="106.2" stroke="#9a9a9a" stroke-width="0.8"/>
<line x1="555.3" y1="101.8" x2="555.3" y2="106.2" stroke="#9a9a9a" stroke-width="0.8"/>
<line x1="557.83" y1="101.8" x2="557.83" y2="106.2" stroke="#9a9a9a" stroke-width="0.8"/>
<line x1="560.37" y1="101.8" x2="560.37" y2="106.2" stroke="#9a9a9a" stroke-width="0.8"/>
<path d="M548.9,114.5 H543.1 V100.1 H568.3 V114.5 H562.4" stroke="#2a2a2a" stroke-width="1.3" fill="none" />
<line x1="544.8" y1="100.6" x2="544.8" y2="111" stroke="#2a2a2a" stroke-width="0.8"/>
<line x1="566.6" y1="100.6" x2="566.6" y2="111" stroke="#2a2a2a" stroke-width="0.8"/>
<path d="M548.9,116.8 V108.9 H562.4 V116.8" stroke="#555" stroke-width="1.0" fill="none" />
<path d="M548.9,116.8 H550.7 V121.0 H560.3 V116.8 H562.4" stroke="#2a2a2a" stroke-width="1.2" fill="none" />
<line x1="548.9" y1="113.3" x2="562.4" y2="113.3" stroke="#888" stroke-width="0.7"/>
<line x1="549.5" y1="110" x2="561.8" y2="110" stroke="#aaa" stroke-width="0.6"/>
<text x="556.37" y="138.9" font-size="11.6" font-weight="bold" text-anchor="middle" style="fill:#111">15</text>
<rect x="573.23" y="111" width="5.2" height="3" rx="0" stroke="#2a2a2a" stroke-width="0" fill="#a0a0a0"/>
<rect x="592.23" y="111" width="5.4" height="3" rx="0" stroke="#2a2a2a" stroke-width="0" fill="#a0a0a0"/>
<rect x="577.43" y="100.9" width="15.2" height="5.8" rx="0" stroke="#2a2a2a" stroke-width="0" fill="#383838"/>
<line x1="579.96" y1="101.8" x2="579.96" y2="106.2" stroke="#9a9a9a" stroke-width="0.8"/>
<line x1="582.5" y1="101.8" x2="582.5" y2="106.2" stroke="#9a9a9a" stroke-width="0.8"/>
<line x1="585.03" y1="101.8" x2="585.03" y2="106.2" stroke="#9a9a9a" stroke-width="0.8"/>
<line x1="587.56" y1="101.8" x2="587.56" y2="106.2" stroke="#9a9a9a" stroke-width="0.8"/>
<line x1="590.1" y1="101.8" x2="590.1" y2="106.2" stroke="#9a9a9a" stroke-width="0.8"/>
<path d="M578.63,114.5 H572.83 V100.1 H598.03 V114.5 H592.13" stroke="#2a2a2a" stroke-width="1.3" fill="none" />
<line x1="574.53" y1="100.6" x2="574.53" y2="111" stroke="#2a2a2a" stroke-width="0.8"/>
<line x1="596.33" y1="100.6" x2="596.33" y2="111" stroke="#2a2a2a" stroke-width="0.8"/>
<path d="M578.63,116.8 V108.9 H592.13 V116.8" stroke="#555" stroke-width="1.0" fill="none" />
<path d="M578.63,116.8 H580.43 V121.0 H590.03 V116.8 H592.13" stroke="#2a2a2a" stroke-width="1.2" fill="none" />
<line x1="578.63" y1="113.3" x2="592.13" y2="113.3" stroke="#888" stroke-width="0.7"/>
<line x1="579.23" y1="110" x2="591.53" y2="110" stroke="#aaa" stroke-width="0.6"/>
<text x="586.1" y="138.9" font-size="11.6" font-weight="bold" text-anchor="middle" style="fill:#111">16</text>
<rect x="602.96" y="111" width="5.2" height="3" rx="0" stroke="#2a2a2a" stroke-width="0" fill="#a0a0a0"/>
<rect x="621.96" y="111" width="5.4" height="3" rx="0" stroke="#2a2a2a" stroke-width="0" fill="#a0a0a0"/>
<rect x="607.16" y="100.9" width="15.2" height="5.8" rx="0" stroke="#2a2a2a" stroke-width="0" fill="#383838"/>
<line x1="609.69" y1="101.8" x2="609.69" y2="106.2" stroke="#9a9a9a" stroke-width="0.8"/>
<line x1="612.23" y1="101.8" x2="612.23" y2="106.2" stroke="#9a9a9a" stroke-width="0.8"/>
<line x1="614.76" y1="101.8" x2="614.76" y2="106.2" stroke="#9a9a9a" stroke-width="0.8"/>
<line x1="617.29" y1="101.8" x2="617.29" y2="106.2" stroke="#9a9a9a" stroke-width="0.8"/>
<line x1="619.83" y1="101.8" x2="619.83" y2="106.2" stroke="#9a9a9a" stroke-width="0.8"/>
<path d="M608.36,114.5 H602.56 V100.1 H627.76 V114.5 H621.86" stroke="#2a2a2a" stroke-width="1.3" fill="none" />
<line x1="604.26" y1="100.6" x2="604.26" y2="111" stroke="#2a2a2a" stroke-width="0.8"/>
<line x1="626.06" y1="100.6" x2="626.06" y2="111" stroke="#2a2a2a" stroke-width="0.8"/>
<path d="M608.36,116.8 V108.9 H621.86 V116.8" stroke="#555" stroke-width="1.0" fill="none" />
<path d="M608.36,116.8 H610.16 V121.0 H619.76 V116.8 H621.86" stroke="#2a2a2a" stroke-width="1.2" fill="none" />
<line x1="608.36" y1="113.3" x2="621.86" y2="113.3" stroke="#888" stroke-width="0.7"/>
<line x1="608.96" y1="110" x2="621.26" y2="110" stroke="#aaa" stroke-width="0.6"/>
<text x="615.83" y="138.9" font-size="11.6" font-weight="bold" text-anchor="middle" style="fill:#111">17</text>
<rect x="632.69" y="111" width="5.2" height="3" rx="0" stroke="#2a2a2a" stroke-width="0" fill="#a0a0a0"/>
<rect x="651.69" y="111" width="5.4" height="3" rx="0" stroke="#2a2a2a" stroke-width="0" fill="#a0a0a0"/>
<rect x="636.89" y="100.9" width="15.2" height="5.8" rx="0" stroke="#2a2a2a" stroke-width="0" fill="#383838"/>
<line x1="639.42" y1="101.8" x2="639.42" y2="106.2" stroke="#9a9a9a" stroke-width="0.8"/>
<line x1="641.96" y1="101.8" x2="641.96" y2="106.2" stroke="#9a9a9a" stroke-width="0.8"/>
<line x1="644.49" y1="101.8" x2="644.49" y2="106.2" stroke="#9a9a9a" stroke-width="0.8"/>
<line x1="647.02" y1="101.8" x2="647.02" y2="106.2" stroke="#9a9a9a" stroke-width="0.8"/>
<line x1="649.56" y1="101.8" x2="649.56" y2="106.2" stroke="#9a9a9a" stroke-width="0.8"/>
<path d="M638.09,114.5 H632.29 V100.1 H657.49 V114.5 H651.59" stroke="#2a2a2a" stroke-width="1.3" fill="none" />
<line x1="633.99" y1="100.6" x2="633.99" y2="111" stroke="#2a2a2a" stroke-width="0.8"/>
<line x1="655.79" y1="100.6" x2="655.79" y2="111" stroke="#2a2a2a" stroke-width="0.8"/>
<path d="M638.09,116.8 V108.9 H651.59 V116.8" stroke="#555" stroke-width="1.0" fill="none" />
<path d="M638.09,116.8 H639.89 V121.0 H649.49 V116.8 H651.59" stroke="#2a2a2a" stroke-width="1.2" fill="none" />
<line x1="638.09" y1="113.3" x2="651.59" y2="113.3" stroke="#888" stroke-width="0.7"/>
<line x1="638.69" y1="110" x2="650.99" y2="110" stroke="#aaa" stroke-width="0.6"/>
<text x="645.56" y="138.9" font-size="11.6" font-weight="bold" text-anchor="middle" style="fill:#111">18</text>
<path d="M699.86,70.4 H718.66 Q719.86,70.4 719.86,71.6 V84.3 Q719.86,85.5 718.66,85.5 H699.86 A7.55,7.55 0 0 1 699.86,70.4 Z" stroke="#2a2a2a" stroke-width="1" fill="none" />
<rect x="722.56" y="70.4" width="27.5" height="15.1" rx="1.4" stroke="#2a2a2a" stroke-width="1" fill="none"/>
<rect x="752.76" y="70.4" width="27.5" height="15.1" rx="1.4" stroke="#2a2a2a" stroke-width="1" fill="none"/>
<rect x="782.96" y="70.4" width="27.5" height="15.1" rx="1.4" stroke="#2a2a2a" stroke-width="1" fill="none"/>
<rect x="813.16" y="70.4" width="27.5" height="15.1" rx="1.4" stroke="#2a2a2a" stroke-width="1" fill="none"/>
<path d="M844.56,70.4 H863.36 A7.55,7.55 0 0 1 863.36,85.5 H844.56 Q843.36,85.5 843.36,84.3 V71.6 Q843.36,70.4 844.56,70.4 Z" stroke="#2a2a2a" stroke-width="1" fill="none" />
<rect x="692.16" y="92.5" width="178.38" height="31" rx="0" stroke="#2a2a2a" stroke-width="1.2" fill="none"/>
<line x1="721.89" y1="92.5" x2="721.89" y2="123.5" stroke="#2a2a2a" stroke-width="1.1"/>
<line x1="751.62" y1="92.5" x2="751.62" y2="123.5" stroke="#2a2a2a" stroke-width="1.1"/>
<line x1="781.35" y1="92.5" x2="781.35" y2="123.5" stroke="#2a2a2a" stroke-width="1.1"/>
<line x1="811.08" y1="92.5" x2="811.08" y2="123.5" stroke="#2a2a2a" stroke-width="1.1"/>
<line x1="840.81" y1="92.5" x2="840.81" y2="123.5" stroke="#2a2a2a" stroke-width="1.1"/>
<rect x="694.76" y="111" width="5.2" height="3" rx="0" stroke="#2a2a2a" stroke-width="0" fill="#a0a0a0"/>
<rect x="713.76" y="111" width="5.4" height="3" rx="0" stroke="#2a2a2a" stroke-width="0" fill="#a0a0a0"/>
<rect x="698.96" y="100.9" width="15.2" height="5.8" rx="0" stroke="#2a2a2a" stroke-width="0" fill="#383838"/>
<line x1="701.49" y1="101.8" x2="701.49" y2="106.2" stroke="#9a9a9a" stroke-width="0.8"/>
<line x1="704.03" y1="101.8" x2="704.03" y2="106.2" stroke="#9a9a9a" stroke-width="0.8"/>
<line x1="706.56" y1="101.8" x2="706.56" y2="106.2" stroke="#9a9a9a" stroke-width="0.8"/>
<line x1="709.09" y1="101.8" x2="709.09" y2="106.2" stroke="#9a9a9a" stroke-width="0.8"/>
<line x1="711.63" y1="101.8" x2="711.63" y2="106.2" stroke="#9a9a9a" stroke-width="0.8"/>
<path d="M700.16,114.5 H694.36 V100.1 H719.56 V114.5 H713.66" stroke="#2a2a2a" stroke-width="1.3" fill="none" />
<line x1="696.06" y1="100.6" x2="696.06" y2="111" stroke="#2a2a2a" stroke-width="0.8"/>
<line x1="717.86" y1="100.6" x2="717.86" y2="111" stroke="#2a2a2a" stroke-width="0.8"/>
<path d="M700.16,116.8 V108.9 H713.66 V116.8" stroke="#555" stroke-width="1.0" fill="none" />
<path d="M700.16,116.8 H701.96 V121.0 H711.56 V116.8 H713.66" stroke="#2a2a2a" stroke-width="1.2" fill="none" />
<line x1="700.16" y1="113.3" x2="713.66" y2="113.3" stroke="#888" stroke-width="0.7"/>
<line x1="700.76" y1="110" x2="713.06" y2="110" stroke="#aaa" stroke-width="0.6"/>
<text x="707.62" y="138.9" font-size="11.6" font-weight="bold" text-anchor="middle" style="fill:#111">19</text>
<rect x="724.49" y="111" width="5.2" height="3" rx="0" stroke="#2a2a2a" stroke-width="0" fill="#a0a0a0"/>
<rect x="743.49" y="111" width="5.4" height="3" rx="0" stroke="#2a2a2a" stroke-width="0" fill="#a0a0a0"/>
<rect x="728.69" y="100.9" width="15.2" height="5.8" rx="0" stroke="#2a2a2a" stroke-width="0" fill="#383838"/>
<line x1="731.22" y1="101.8" x2="731.22" y2="106.2" stroke="#9a9a9a" stroke-width="0.8"/>
<line x1="733.76" y1="101.8" x2="733.76" y2="106.2" stroke="#9a9a9a" stroke-width="0.8"/>
<line x1="736.29" y1="101.8" x2="736.29" y2="106.2" stroke="#9a9a9a" stroke-width="0.8"/>
<line x1="738.82" y1="101.8" x2="738.82" y2="106.2" stroke="#9a9a9a" stroke-width="0.8"/>
<line x1="741.36" y1="101.8" x2="741.36" y2="106.2" stroke="#9a9a9a" stroke-width="0.8"/>
<path d="M729.89,114.5 H724.09 V100.1 H749.29 V114.5 H743.39" stroke="#2a2a2a" stroke-width="1.3" fill="none" />
<line x1="725.79" y1="100.6" x2="725.79" y2="111" stroke="#2a2a2a" stroke-width="0.8"/>
<line x1="747.59" y1="100.6" x2="747.59" y2="111" stroke="#2a2a2a" stroke-width="0.8"/>
<path d="M729.89,116.8 V108.9 H743.39 V116.8" stroke="#555" stroke-width="1.0" fill="none" />
<path d="M729.89,116.8 H731.69 V121.0 H741.29 V116.8 H743.39" stroke="#2a2a2a" stroke-width="1.2" fill="none" />
<line x1="729.89" y1="113.3" x2="743.39" y2="113.3" stroke="#888" stroke-width="0.7"/>
<line x1="730.49" y1="110" x2="742.79" y2="110" stroke="#aaa" stroke-width="0.6"/>
<text x="737.36" y="138.9" font-size="11.6" font-weight="bold" text-anchor="middle" style="fill:#111">20</text>
<rect x="754.22" y="111" width="5.2" height="3" rx="0" stroke="#2a2a2a" stroke-width="0" fill="#a0a0a0"/>
<rect x="773.22" y="111" width="5.4" height="3" rx="0" stroke="#2a2a2a" stroke-width="0" fill="#a0a0a0"/>
<rect x="758.42" y="100.9" width="15.2" height="5.8" rx="0" stroke="#2a2a2a" stroke-width="0" fill="#383838"/>
<line x1="760.95" y1="101.8" x2="760.95" y2="106.2" stroke="#9a9a9a" stroke-width="0.8"/>
<line x1="763.49" y1="101.8" x2="763.49" y2="106.2" stroke="#9a9a9a" stroke-width="0.8"/>
<line x1="766.02" y1="101.8" x2="766.02" y2="106.2" stroke="#9a9a9a" stroke-width="0.8"/>
<line x1="768.55" y1="101.8" x2="768.55" y2="106.2" stroke="#9a9a9a" stroke-width="0.8"/>
<line x1="771.09" y1="101.8" x2="771.09" y2="106.2" stroke="#9a9a9a" stroke-width="0.8"/>
<path d="M759.62,114.5 H753.82 V100.1 H779.02 V114.5 H773.12" stroke="#2a2a2a" stroke-width="1.3" fill="none" />
<line x1="755.52" y1="100.6" x2="755.52" y2="111" stroke="#2a2a2a" stroke-width="0.8"/>
<line x1="777.32" y1="100.6" x2="777.32" y2="111" stroke="#2a2a2a" stroke-width="0.8"/>
<path d="M759.62,116.8 V108.9 H773.12 V116.8" stroke="#555" stroke-width="1.0" fill="none" />
<path d="M759.62,116.8 H761.42 V121.0 H771.02 V116.8 H773.12" stroke="#2a2a2a" stroke-width="1.2" fill="none" />
<line x1="759.62" y1="113.3" x2="773.12" y2="113.3" stroke="#888" stroke-width="0.7"/>
<line x1="760.22" y1="110" x2="772.52" y2="110" stroke="#aaa" stroke-width="0.6"/>
<text x="767.09" y="138.9" font-size="11.6" font-weight="bold" text-anchor="middle" style="fill:#111">21</text>
<rect x="783.95" y="111" width="5.2" height="3" rx="0" stroke="#2a2a2a" stroke-width="0" fill="#a0a0a0"/>
<rect x="802.95" y="111" width="5.4" height="3" rx="0" stroke="#2a2a2a" stroke-width="0" fill="#a0a0a0"/>
<rect x="788.15" y="100.9" width="15.2" height="5.8" rx="0" stroke="#2a2a2a" stroke-width="0" fill="#383838"/>
<line x1="790.68" y1="101.8" x2="790.68" y2="106.2" stroke="#9a9a9a" stroke-width="0.8"/>
<line x1="793.22" y1="101.8" x2="793.22" y2="106.2" stroke="#9a9a9a" stroke-width="0.8"/>
<line x1="795.75" y1="101.8" x2="795.75" y2="106.2" stroke="#9a9a9a" stroke-width="0.8"/>
<line x1="798.28" y1="101.8" x2="798.28" y2="106.2" stroke="#9a9a9a" stroke-width="0.8"/>
<line x1="800.82" y1="101.8" x2="800.82" y2="106.2" stroke="#9a9a9a" stroke-width="0.8"/>
<path d="M789.35,114.5 H783.55 V100.1 H808.75 V114.5 H802.85" stroke="#2a2a2a" stroke-width="1.3" fill="none" />
<line x1="785.25" y1="100.6" x2="785.25" y2="111" stroke="#2a2a2a" stroke-width="0.8"/>
<line x1="807.05" y1="100.6" x2="807.05" y2="111" stroke="#2a2a2a" stroke-width="0.8"/>
<path d="M789.35,116.8 V108.9 H802.85 V116.8" stroke="#555" stroke-width="1.0" fill="none" />
<path d="M789.35,116.8 H791.15 V121.0 H800.75 V116.8 H802.85" stroke="#2a2a2a" stroke-width="1.2" fill="none" />
<line x1="789.35" y1="113.3" x2="802.85" y2="113.3" stroke="#888" stroke-width="0.7"/>
<line x1="789.95" y1="110" x2="802.25" y2="110" stroke="#aaa" stroke-width="0.6"/>
<text x="796.81" y="138.9" font-size="11.6" font-weight="bold" text-anchor="middle" style="fill:#111">22</text>
<rect x="813.68" y="111" width="5.2" height="3" rx="0" stroke="#2a2a2a" stroke-width="0" fill="#a0a0a0"/>
<rect x="832.68" y="111" width="5.4" height="3" rx="0" stroke="#2a2a2a" stroke-width="0" fill="#a0a0a0"/>
<rect x="817.88" y="100.9" width="15.2" height="5.8" rx="0" stroke="#2a2a2a" stroke-width="0" fill="#383838"/>
<line x1="820.41" y1="101.8" x2="820.41" y2="106.2" stroke="#9a9a9a" stroke-width="0.8"/>
<line x1="822.95" y1="101.8" x2="822.95" y2="106.2" stroke="#9a9a9a" stroke-width="0.8"/>
<line x1="825.48" y1="101.8" x2="825.48" y2="106.2" stroke="#9a9a9a" stroke-width="0.8"/>
<line x1="828.01" y1="101.8" x2="828.01" y2="106.2" stroke="#9a9a9a" stroke-width="0.8"/>
<line x1="830.55" y1="101.8" x2="830.55" y2="106.2" stroke="#9a9a9a" stroke-width="0.8"/>
<path d="M819.08,114.5 H813.28 V100.1 H838.48 V114.5 H832.58" stroke="#2a2a2a" stroke-width="1.3" fill="none" />
<line x1="814.98" y1="100.6" x2="814.98" y2="111" stroke="#2a2a2a" stroke-width="0.8"/>
<line x1="836.78" y1="100.6" x2="836.78" y2="111" stroke="#2a2a2a" stroke-width="0.8"/>
<path d="M819.08,116.8 V108.9 H832.58 V116.8" stroke="#555" stroke-width="1.0" fill="none" />
<path d="M819.08,116.8 H820.88 V121.0 H830.48 V116.8 H832.58" stroke="#2a2a2a" stroke-width="1.2" fill="none" />
<line x1="819.08" y1="113.3" x2="832.58" y2="113.3" stroke="#888" stroke-width="0.7"/>
<line x1="819.68" y1="110" x2="831.98" y2="110" stroke="#aaa" stroke-width="0.6"/>
<text x="826.54" y="138.9" font-size="11.6" font-weight="bold" text-anchor="middle" style="fill:#111">23</text>
<rect x="843.41" y="111" width="5.2" height="3" rx="0" stroke="#2a2a2a" stroke-width="0" fill="#a0a0a0"/>
<rect x="862.41" y="111" width="5.4" height="3" rx="0" stroke="#2a2a2a" stroke-width="0" fill="#a0a0a0"/>
<rect x="847.61" y="100.9" width="15.2" height="5.8" rx="0" stroke="#2a2a2a" stroke-width="0" fill="#383838"/>
<line x1="850.14" y1="101.8" x2="850.14" y2="106.2" stroke="#9a9a9a" stroke-width="0.8"/>
<line x1="852.68" y1="101.8" x2="852.68" y2="106.2" stroke="#9a9a9a" stroke-width="0.8"/>
<line x1="855.21" y1="101.8" x2="855.21" y2="106.2" stroke="#9a9a9a" stroke-width="0.8"/>
<line x1="857.74" y1="101.8" x2="857.74" y2="106.2" stroke="#9a9a9a" stroke-width="0.8"/>
<line x1="860.28" y1="101.8" x2="860.28" y2="106.2" stroke="#9a9a9a" stroke-width="0.8"/>
<path d="M848.81,114.5 H843.01 V100.1 H868.21 V114.5 H862.31" stroke="#2a2a2a" stroke-width="1.3" fill="none" />
<line x1="844.71" y1="100.6" x2="844.71" y2="111" stroke="#2a2a2a" stroke-width="0.8"/>
<line x1="866.51" y1="100.6" x2="866.51" y2="111" stroke="#2a2a2a" stroke-width="0.8"/>
<path d="M848.81,116.8 V108.9 H862.31 V116.8" stroke="#555" stroke-width="1.0" fill="none" />
<path d="M848.81,116.8 H850.61 V121.0 H860.21 V116.8 H862.31" stroke="#2a2a2a" stroke-width="1.2" fill="none" />
<line x1="848.81" y1="113.3" x2="862.31" y2="113.3" stroke="#888" stroke-width="0.7"/>
<line x1="849.41" y1="110" x2="861.71" y2="110" stroke="#aaa" stroke-width="0.6"/>
<text x="856.27" y="138.9" font-size="11.6" font-weight="bold" text-anchor="middle" style="fill:#111">24</text>
<rect x="38.4" y="253.6" width="3" height="170.8" rx="0" stroke="#2a2a2a" stroke-width="0" fill="#d4d4d4"/>
<line x1="38.4" y1="253.6" x2="38.4" y2="424.5" stroke="#2a2a2a" stroke-width="1"/>
<line x1="41.4" y1="253.6" x2="41.4" y2="391" stroke="#666" stroke-width="1"/>
<rect x="886.8" y="253.6" width="3" height="170.8" rx="0" stroke="#2a2a2a" stroke-width="0" fill="#d4d4d4"/>
<line x1="889.8" y1="253.6" x2="889.8" y2="424.5" stroke="#2a2a2a" stroke-width="1"/>
<line x1="886.8" y1="253.6" x2="886.8" y2="391" stroke="#666" stroke-width="1"/>
<path d="M38.4,253.6 H51.2 Q53.4,253.6 53.4,255.8 V259.2" stroke="#2a2a2a" stroke-width="1" fill="none" />
<path d="M889.8,253.6 H876.8 Q874.6,253.6 874.6,255.8 V259.2" stroke="#2a2a2a" stroke-width="1" fill="none" />
<line x1="38.4" y1="259.4" x2="889.8" y2="259.4" stroke="#666" stroke-width="1.2"/>
<path d="M51.6,274.8 H64.2 V286.5 H60.1 Q58.6,286.5 58.6,288 V293 Q58.6,294.4 60.1,294.4 H75.7 Q77.2,294.4 77.2,293 V288 Q77.2,286.5 75.7,286.5 H71.6 V274.8 H97.2 V286.5 H93.1 Q91.6,286.5 91.6,288 V293 Q91.6,294.4 93.1,294.4 H108.7 Q110.2,294.4 110.2,293 V288 Q110.2,286.5 108.7,286.5 H104.6 V274.8 H129.5 V286.5 H125.4 Q123.9,286.5 123.9,288 V293 Q123.9,294.4 125.4,294.4 H141 Q142.5,294.4 142.5,293 V288 Q142.5,286.5 141,286.5 H136.9 V274.8 H161.4 V286.5 H157.3 Q155.8,286.5 155.8,288 V293 Q155.8,294.4 157.3,294.4 H172.9 Q174.4,294.4 174.4,293 V288 Q174.4,286.5 172.9,286.5 H168.8 V274.8 H193.2 V286.5 H189.1 Q187.6,286.5 187.6,288 V293 Q187.6,294.4 189.1,294.4 H204.7 Q206.2,294.4 206.2,293 V288 Q206.2,286.5 204.7,286.5 H200.6 V274.8 H226.1 V286.5 H222 Q220.5,286.5 220.5,288 V293 Q220.5,294.4 222,294.4 H237.6 Q239.1,294.4 239.1,293 V288 Q239.1,286.5 237.6,286.5 H233.5 V274.8 H246 Q247.5,274.8 247.5,276.3 V299 Q247.5,300.5 246,300.5 H51.6 Q50.1,300.5 50.1,299 V276.3 Q50.1,274.8 51.6,274.8 Z" stroke="#2a2a2a" stroke-width="1.1" fill="none" />
<path d="M261.75,274.8 H274.35 V286.5 H270.25 Q268.75,286.5 268.75,288 V293 Q268.75,294.4 270.25,294.4 H285.85 Q287.35,294.4 287.35,293 V288 Q287.35,286.5 285.85,286.5 H281.75 V274.8 H307.35 V286.5 H303.25 Q301.75,286.5 301.75,288 V293 Q301.75,294.4 303.25,294.4 H318.85 Q320.35,294.4 320.35,293 V288 Q320.35,286.5 318.85,286.5 H314.75 V274.8 H339.65 V286.5 H335.55 Q334.05,286.5 334.05,288 V293 Q334.05,294.4 335.55,294.4 H351.15 Q352.65,294.4 352.65,293 V288 Q352.65,286.5 351.15,286.5 H347.05 V274.8 H371.55 V286.5 H367.45 Q365.95,286.5 365.95,288 V293 Q365.95,294.4 367.45,294.4 H383.05 Q384.55,294.4 384.55,293 V288 Q384.55,286.5 383.05,286.5 H378.95 V274.8 H403.35 V286.5 H399.25 Q397.75,286.5 397.75,288 V293 Q397.75,294.4 399.25,294.4 H414.85 Q416.35,294.4 416.35,293 V288 Q416.35,286.5 414.85,286.5 H410.75 V274.8 H436.25 V286.5 H432.15 Q430.65,286.5 430.65,288 V293 Q430.65,294.4 432.15,294.4 H447.75 Q449.25,294.4 449.25,293 V288 Q449.25,286.5 447.75,286.5 H443.65 V274.8 H456.15 Q457.65,274.8 457.65,276.3 V299 Q457.65,300.5 456.15,300.5 H261.75 Q260.25,300.5 260.25,299 V276.3 Q260.25,274.8 261.75,274.8 Z" stroke="#2a2a2a" stroke-width="1.1" fill="none" />
<path d="M471.9,274.8 H484.5 V286.5 H480.4 Q478.9,286.5 478.9,288 V293 Q478.9,294.4 480.4,294.4 H496 Q497.5,294.4 497.5,293 V288 Q497.5,286.5 496,286.5 H491.9 V274.8 H517.5 V286.5 H513.4 Q511.9,286.5 511.9,288 V293 Q511.9,294.4 513.4,294.4 H529 Q530.5,294.4 530.5,293 V288 Q530.5,286.5 529,286.5 H524.9 V274.8 H549.8 V286.5 H545.7 Q544.2,286.5 544.2,288 V293 Q544.2,294.4 545.7,294.4 H561.3 Q562.8,294.4 562.8,293 V288 Q562.8,286.5 561.3,286.5 H557.2 V274.8 H581.7 V286.5 H577.6 Q576.1,286.5 576.1,288 V293 Q576.1,294.4 577.6,294.4 H593.2 Q594.7,294.4 594.7,293 V288 Q594.7,286.5 593.2,286.5 H589.1 V274.8 H613.5 V286.5 H609.4 Q607.9,286.5 607.9,288 V293 Q607.9,294.4 609.4,294.4 H625 Q626.5,294.4 626.5,293 V288 Q626.5,286.5 625,286.5 H620.9 V274.8 H646.4 V286.5 H642.3 Q640.8,286.5 640.8,288 V293 Q640.8,294.4 642.3,294.4 H657.9 Q659.4,294.4 659.4,293 V288 Q659.4,286.5 657.9,286.5 H653.8 V274.8 H666.3 Q667.8,274.8 667.8,276.3 V299 Q667.8,300.5 666.3,300.5 H471.9 Q470.4,300.5 470.4,299 V276.3 Q470.4,274.8 471.9,274.8 Z" stroke="#2a2a2a" stroke-width="1.1" fill="none" />
<path d="M682.05,274.8 H694.65 V286.5 H690.55 Q689.05,286.5 689.05,288 V293 Q689.05,294.4 690.55,294.4 H706.15 Q707.65,294.4 707.65,293 V288 Q707.65,286.5 706.15,286.5 H702.05 V274.8 H727.65 V286.5 H723.55 Q722.05,286.5 722.05,288 V293 Q722.05,294.4 723.55,294.4 H739.15 Q740.65,294.4 740.65,293 V288 Q740.65,286.5 739.15,286.5 H735.05 V274.8 H759.95 V286.5 H755.85 Q754.35,286.5 754.35,288 V293 Q754.35,294.4 755.85,294.4 H771.45 Q772.95,294.4 772.95,293 V288 Q772.95,286.5 771.45,286.5 H767.35 V274.8 H791.85 V286.5 H787.75 Q786.25,286.5 786.25,288 V293 Q786.25,294.4 787.75,294.4 H803.35 Q804.85,294.4 804.85,293 V288 Q804.85,286.5 803.35,286.5 H799.25 V274.8 H823.65 V286.5 H819.55 Q818.05,286.5 818.05,288 V293 Q818.05,294.4 819.55,294.4 H835.15 Q836.65,294.4 836.65,293 V288 Q836.65,286.5 835.15,286.5 H831.05 V274.8 H856.55 V286.5 H852.45 Q850.95,286.5 850.95,288 V293 Q850.95,294.4 852.45,294.4 H868.05 Q869.55,294.4 869.55,293 V288 Q869.55,286.5 868.05,286.5 H863.95 V274.8 H876.45 Q877.95,274.8 877.95,276.3 V299 Q877.95,300.5 876.45,300.5 H682.05 Q680.55,300.5 680.55,299 V276.3 Q680.55,274.8 682.05,274.8 Z" stroke="#2a2a2a" stroke-width="1.1" fill="none" />
<path d="M41,319.5 A12.7,12.7 0 0 0 53.7,332.2 H72 C78,332.2 80,326 86,321 C91,317 95,315.4 104,315.4 H825 C834,315.4 838,317 843,321 C849,326 851,332.2 857,332.2 H874.3 A12.7,12.7 0 0 0 887,319.5" stroke="#2a2a2a" stroke-width="1.0" fill="none" />
<path d="M77.4,329.8 V336.5 A7.5,7.5 0 0 1 69.9,344 H41" stroke="#2a2a2a" stroke-width="1.1" fill="none" />
<path d="M850.6,329.8 V336.5 A7.5,7.5 0 0 0 858.1,344 H887" stroke="#2a2a2a" stroke-width="1.1" fill="none" />
<circle cx="66.5" cy="317" r="4" stroke="#2a2a2a" stroke-width="1" fill="none"/>
<circle cx="861.6" cy="316.9" r="4" stroke="#2a2a2a" stroke-width="1" fill="none"/>
<rect x="60.9" y="374.3" width="175.5" height="10.6" rx="0" stroke="#2a2a2a" stroke-width="0" fill="#ffffff"/>
<line x1="60.9" y1="374.4" x2="236.4" y2="374.4" stroke="#2a2a2a" stroke-width="1.1"/>
<line x1="60.9" y1="377.1" x2="236.4" y2="377.1" stroke="#b4b4b4" stroke-width="0.8"/>
<line x1="60.9" y1="378.6" x2="236.4" y2="378.6" stroke="#4a4a4a" stroke-width="1.0"/>
<line x1="60.9" y1="379.8" x2="236.4" y2="379.8" stroke="#5a5a5a" stroke-width="1.0"/>
<line x1="60.9" y1="381.2" x2="236.4" y2="381.2" stroke="#8a8a8a" stroke-width="1.0"/>
<line x1="60.9" y1="362" x2="60.9" y2="385" stroke="#2a2a2a" stroke-width="1"/>
<line x1="236.4" y1="364" x2="236.4" y2="385" stroke="#2a2a2a" stroke-width="1"/>
<path d="M60.9,374.3 V366.8 Q60.9,364.6 63.1,364.6 H64.1 V374.3 Z" stroke="#2a2a2a" stroke-width="0" fill="#5a5a5a" />
<path d="M236.4,374.3 V366.8 Q236.4,364.6 234.2,364.6 H233.2 V374.3 Z" stroke="#2a2a2a" stroke-width="0" fill="#5a5a5a" />
<rect x="71.1" y="366" width="2.1" height="8.3" rx="0" stroke="#2a2a2a" stroke-width="0" fill="#a4a4a4"/>
<path d="M65.9,374.3 V365.8 L67.1,362.4 H69.9 L71.1,365.8 V374.3" stroke="#2a2a2a" stroke-width="0.9" fill="none" />
<polygon points="67.2,361.9 69.8,361.9 70.5,364.0 66.5,364.0" fill="#333"/>
<circle cx="68.5" cy="369.3" r="1.3" stroke="#2a2a2a" stroke-width="0.8" fill="none"/>
<rect x="78.41" y="366" width="2.1" height="8.3" rx="0" stroke="#2a2a2a" stroke-width="0" fill="#a4a4a4"/>
<path d="M73.21,374.3 V366.6 Q73.21,364.5 74.81,364.5 H76.81 Q78.41,364.5 78.41,366.6 V374.3" stroke="#2a2a2a" stroke-width="1.1" fill="none" />
<line x1="75.81" y1="366.6" x2="75.81" y2="371.4" stroke="#555" stroke-width="0.9"/>
<rect x="85.73" y="366" width="2.1" height="8.3" rx="0" stroke="#2a2a2a" stroke-width="0" fill="#a4a4a4"/>
<path d="M80.53,374.3 V365.8 L81.73,362.4 H84.53 L85.73,365.8 V374.3" stroke="#2a2a2a" stroke-width="0.9" fill="none" />
<polygon points="81.83,361.9 84.43,361.9 85.13,364.0 81.13,364.0" fill="#333"/>
<circle cx="83.13" cy="369.3" r="1.3" stroke="#2a2a2a" stroke-width="0.8" fill="none"/>
<rect x="93.04" y="366" width="2.1" height="8.3" rx="0" stroke="#2a2a2a" stroke-width="0" fill="#a4a4a4"/>
<path d="M87.84,374.3 V366.6 Q87.84,364.5 89.44,364.5 H91.44 Q93.04,364.5 93.04,366.6 V374.3" stroke="#2a2a2a" stroke-width="1.1" fill="none" />
<line x1="90.44" y1="366.6" x2="90.44" y2="371.4" stroke="#555" stroke-width="0.9"/>
<rect x="100.36" y="366" width="2.1" height="8.3" rx="0" stroke="#2a2a2a" stroke-width="0" fill="#a4a4a4"/>
<path d="M95.16,374.3 V365.8 L96.36,362.4 H99.16 L100.36,365.8 V374.3" stroke="#2a2a2a" stroke-width="0.9" fill="none" />
<polygon points="96.46,361.9 99.06,361.9 99.76,364.0 95.76,364.0" fill="#333"/>
<circle cx="97.76" cy="369.3" r="1.3" stroke="#2a2a2a" stroke-width="0.8" fill="none"/>
<rect x="107.67" y="366" width="2.1" height="8.3" rx="0" stroke="#2a2a2a" stroke-width="0" fill="#a4a4a4"/>
<path d="M102.47,374.3 V366.6 Q102.47,364.5 104.07,364.5 H106.07 Q107.67,364.5 107.67,366.6 V374.3" stroke="#2a2a2a" stroke-width="1.1" fill="none" />
<line x1="105.07" y1="366.6" x2="105.07" y2="371.4" stroke="#555" stroke-width="0.9"/>
<rect x="114.98" y="366" width="2.1" height="8.3" rx="0" stroke="#2a2a2a" stroke-width="0" fill="#a4a4a4"/>
<path d="M109.78,374.3 V365.8 L110.98,362.4 H113.78 L114.98,365.8 V374.3" stroke="#2a2a2a" stroke-width="0.9" fill="none" />
<polygon points="111.08,361.9 113.68,361.9 114.38,364.0 110.38,364.0" fill="#333"/>
<circle cx="112.38" cy="369.3" r="1.3" stroke="#2a2a2a" stroke-width="0.8" fill="none"/>
<rect x="122.3" y="366" width="2.1" height="8.3" rx="0" stroke="#2a2a2a" stroke-width="0" fill="#a4a4a4"/>
<path d="M117.1,374.3 V366.6 Q117.1,364.5 118.7,364.5 H120.7 Q122.3,364.5 122.3,366.6 V374.3 Z" stroke="#2a2a2a" stroke-width="0.5" fill="#5a5a5a" />
<rect x="129.61" y="366" width="2.1" height="8.3" rx="0" stroke="#2a2a2a" stroke-width="0" fill="#a4a4a4"/>
<path d="M124.41,374.3 V365.8 L125.61,362.4 H128.41 L129.61,365.8 V374.3" stroke="#2a2a2a" stroke-width="0.9" fill="none" />
<polygon points="125.71,361.9 128.31,361.9 129.01,364.0 125.01,364.0" fill="#333"/>
<circle cx="127.01" cy="369.3" r="1.3" stroke="#2a2a2a" stroke-width="0.8" fill="none"/>
<rect x="136.93" y="366" width="2.1" height="8.3" rx="0" stroke="#2a2a2a" stroke-width="0" fill="#a4a4a4"/>
<path d="M131.73,374.3 V366.6 Q131.73,364.5 133.33,364.5 H135.33 Q136.93,364.5 136.93,366.6 V374.3" stroke="#2a2a2a" stroke-width="1.1" fill="none" />
<line x1="134.33" y1="366.6" x2="134.33" y2="371.4" stroke="#555" stroke-width="0.9"/>
<rect x="144.24" y="366" width="2.1" height="8.3" rx="0" stroke="#2a2a2a" stroke-width="0" fill="#a4a4a4"/>
<path d="M139.04,374.3 V365.8 L140.24,362.4 H143.04 L144.24,365.8 V374.3" stroke="#2a2a2a" stroke-width="0.9" fill="none" />
<polygon points="140.34,361.9 142.94,361.9 143.64,364.0 139.64,364.0" fill="#333"/>
<circle cx="141.64" cy="369.3" r="1.3" stroke="#2a2a2a" stroke-width="0.8" fill="none"/>
<rect x="151.55" y="366" width="2.1" height="8.3" rx="0" stroke="#2a2a2a" stroke-width="0" fill="#a4a4a4"/>
<path d="M146.35,374.3 V366.6 Q146.35,364.5 147.95,364.5 H149.95 Q151.55,364.5 151.55,366.6 V374.3" stroke="#2a2a2a" stroke-width="1.1" fill="none" />
<line x1="148.95" y1="366.6" x2="148.95" y2="371.4" stroke="#555" stroke-width="0.9"/>
<rect x="158.87" y="366" width="2.1" height="8.3" rx="0" stroke="#2a2a2a" stroke-width="0" fill="#a4a4a4"/>
<path d="M153.67,374.3 V365.8 L154.87,362.4 H157.67 L158.87,365.8 V374.3" stroke="#2a2a2a" stroke-width="0.9" fill="none" />
<polygon points="154.97,361.9 157.57,361.9 158.27,364.0 154.27,364.0" fill="#333"/>
<circle cx="156.27" cy="369.3" r="1.3" stroke="#2a2a2a" stroke-width="0.8" fill="none"/>
<rect x="166.18" y="366" width="2.1" height="8.3" rx="0" stroke="#2a2a2a" stroke-width="0" fill="#a4a4a4"/>
<path d="M160.98,374.3 V366.6 Q160.98,364.5 162.58,364.5 H164.58 Q166.18,364.5 166.18,366.6 V374.3" stroke="#2a2a2a" stroke-width="1.1" fill="none" />
<line x1="163.58" y1="366.6" x2="163.58" y2="371.4" stroke="#555" stroke-width="0.9"/>
<rect x="173.5" y="366" width="2.1" height="8.3" rx="0" stroke="#2a2a2a" stroke-width="0" fill="#a4a4a4"/>
<path d="M168.3,374.3 V365.8 L169.5,362.4 H172.3 L173.5,365.8 V374.3" stroke="#2a2a2a" stroke-width="0.9" fill="none" />
<polygon points="169.6,361.9 172.2,361.9 172.9,364.0 168.9,364.0" fill="#333"/>
<circle cx="170.9" cy="369.3" r="1.3" stroke="#2a2a2a" stroke-width="0.8" fill="none"/>
<rect x="180.81" y="366" width="2.1" height="8.3" rx="0" stroke="#2a2a2a" stroke-width="0" fill="#a4a4a4"/>
<path d="M175.61,374.3 V366.6 Q175.61,364.5 177.21,364.5 H179.21 Q180.81,364.5 180.81,366.6 V374.3 Z" stroke="#2a2a2a" stroke-width="0.5" fill="#5a5a5a" />
<rect x="188.12" y="366" width="2.1" height="8.3" rx="0" stroke="#2a2a2a" stroke-width="0" fill="#a4a4a4"/>
<path d="M182.92,374.3 V365.8 L184.12,362.4 H186.92 L188.12,365.8 V374.3" stroke="#2a2a2a" stroke-width="0.9" fill="none" />
<polygon points="184.22,361.9 186.82,361.9 187.52,364.0 183.52,364.0" fill="#333"/>
<circle cx="185.52" cy="369.3" r="1.3" stroke="#2a2a2a" stroke-width="0.8" fill="none"/>
<rect x="195.44" y="366" width="2.1" height="8.3" rx="0" stroke="#2a2a2a" stroke-width="0" fill="#a4a4a4"/>
<path d="M190.24,374.3 V366.6 Q190.24,364.5 191.84,364.5 H193.84 Q195.44,364.5 195.44,366.6 V374.3" stroke="#2a2a2a" stroke-width="1.1" fill="none" />
<line x1="192.84" y1="366.6" x2="192.84" y2="371.4" stroke="#555" stroke-width="0.9"/>
<rect x="202.75" y="366" width="2.1" height="8.3" rx="0" stroke="#2a2a2a" stroke-width="0" fill="#a4a4a4"/>
<path d="M197.55,374.3 V365.8 L198.75,362.4 H201.55 L202.75,365.8 V374.3" stroke="#2a2a2a" stroke-width="0.9" fill="none" />
<polygon points="198.85,361.9 201.45,361.9 202.15,364.0 198.15,364.0" fill="#333"/>
<circle cx="200.15" cy="369.3" r="1.3" stroke="#2a2a2a" stroke-width="0.8" fill="none"/>
<rect x="210.07" y="366" width="2.1" height="8.3" rx="0" stroke="#2a2a2a" stroke-width="0" fill="#a4a4a4"/>
<path d="M204.87,374.3 V366.6 Q204.87,364.5 206.47,364.5 H208.47 Q210.07,364.5 210.07,366.6 V374.3" stroke="#2a2a2a" stroke-width="1.1" fill="none" />
<line x1="207.47" y1="366.6" x2="207.47" y2="371.4" stroke="#555" stroke-width="0.9"/>
<rect x="217.38" y="366" width="2.1" height="8.3" rx="0" stroke="#2a2a2a" stroke-width="0" fill="#a4a4a4"/>
<path d="M212.18,374.3 V365.8 L213.38,362.4 H216.18 L217.38,365.8 V374.3" stroke="#2a2a2a" stroke-width="0.9" fill="none" />
<polygon points="213.48,361.9 216.08,361.9 216.78,364.0 212.78,364.0" fill="#333"/>
<circle cx="214.78" cy="369.3" r="1.3" stroke="#2a2a2a" stroke-width="0.8" fill="none"/>
<rect x="224.69" y="366" width="2.1" height="8.3" rx="0" stroke="#2a2a2a" stroke-width="0" fill="#a4a4a4"/>
<path d="M219.49,374.3 V366.6 Q219.49,364.5 221.09,364.5 H223.09 Q224.69,364.5 224.69,366.6 V374.3" stroke="#2a2a2a" stroke-width="1.1" fill="none" />
<line x1="222.09" y1="366.6" x2="222.09" y2="371.4" stroke="#555" stroke-width="0.9"/>
<rect x="232.01" y="366" width="2.1" height="8.3" rx="0" stroke="#2a2a2a" stroke-width="0" fill="#a4a4a4"/>
<path d="M226.81,374.3 V365.8 L228.01,362.4 H230.81 L232.01,365.8 V374.3" stroke="#2a2a2a" stroke-width="0.9" fill="none" />
<polygon points="228.11,361.9 230.71,361.9 231.41,364.0 227.41,364.0" fill="#333"/>
<circle cx="229.41" cy="369.3" r="1.3" stroke="#2a2a2a" stroke-width="0.8" fill="none"/>
<line x1="119.7" y1="364.4" x2="119.7" y2="385.5" stroke="#111" stroke-width="1.6"/>
<line x1="178.2" y1="364.4" x2="178.2" y2="385.5" stroke="#111" stroke-width="1.6"/>
<rect x="271.5" y="374.3" width="175.5" height="10.6" rx="0" stroke="#2a2a2a" stroke-width="0" fill="#ffffff"/>
<line x1="271.5" y1="374.4" x2="447" y2="374.4" stroke="#2a2a2a" stroke-width="1.1"/>
<line x1="271.5" y1="377.1" x2="447" y2="377.1" stroke="#b4b4b4" stroke-width="0.8"/>
<line x1="271.5" y1="378.6" x2="447" y2="378.6" stroke="#4a4a4a" stroke-width="1.0"/>
<line x1="271.5" y1="379.8" x2="447" y2="379.8" stroke="#5a5a5a" stroke-width="1.0"/>
<line x1="271.5" y1="381.2" x2="447" y2="381.2" stroke="#8a8a8a" stroke-width="1.0"/>
<line x1="271.5" y1="362" x2="271.5" y2="385" stroke="#2a2a2a" stroke-width="1"/>
<line x1="447" y1="364" x2="447" y2="385" stroke="#2a2a2a" stroke-width="1"/>
<path d="M271.5,374.3 V366.8 Q271.5,364.6 273.7,364.6 H274.7 V374.3 Z" stroke="#2a2a2a" stroke-width="0" fill="#5a5a5a" />
<path d="M447,374.3 V366.8 Q447,364.6 444.8,364.6 H443.8 V374.3 Z" stroke="#2a2a2a" stroke-width="0" fill="#5a5a5a" />
<rect x="281.7" y="366" width="2.1" height="8.3" rx="0" stroke="#2a2a2a" stroke-width="0" fill="#a4a4a4"/>
<path d="M276.5,374.3 V365.8 L277.7,362.4 H280.5 L281.7,365.8 V374.3" stroke="#2a2a2a" stroke-width="0.9" fill="none" />
<polygon points="277.8,361.9 280.4,361.9 281.1,364.0 277.1,364.0" fill="#333"/>
<circle cx="279.1" cy="369.3" r="1.3" stroke="#2a2a2a" stroke-width="0.8" fill="none"/>
<rect x="289.01" y="366" width="2.1" height="8.3" rx="0" stroke="#2a2a2a" stroke-width="0" fill="#a4a4a4"/>
<path d="M283.81,374.3 V366.6 Q283.81,364.5 285.41,364.5 H287.41 Q289.01,364.5 289.01,366.6 V374.3" stroke="#2a2a2a" stroke-width="1.1" fill="none" />
<line x1="286.41" y1="366.6" x2="286.41" y2="371.4" stroke="#555" stroke-width="0.9"/>
<rect x="296.33" y="366" width="2.1" height="8.3" rx="0" stroke="#2a2a2a" stroke-width="0" fill="#a4a4a4"/>
<path d="M291.13,374.3 V365.8 L292.33,362.4 H295.13 L296.33,365.8 V374.3" stroke="#2a2a2a" stroke-width="0.9" fill="none" />
<polygon points="292.43,361.9 295.03,361.9 295.73,364.0 291.73,364.0" fill="#333"/>
<circle cx="293.73" cy="369.3" r="1.3" stroke="#2a2a2a" stroke-width="0.8" fill="none"/>
<rect x="303.64" y="366" width="2.1" height="8.3" rx="0" stroke="#2a2a2a" stroke-width="0" fill="#a4a4a4"/>
<path d="M298.44,374.3 V366.6 Q298.44,364.5 300.04,364.5 H302.04 Q303.64,364.5 303.64,366.6 V374.3" stroke="#2a2a2a" stroke-width="1.1" fill="none" />
<line x1="301.04" y1="366.6" x2="301.04" y2="371.4" stroke="#555" stroke-width="0.9"/>
<rect x="310.96" y="366" width="2.1" height="8.3" rx="0" stroke="#2a2a2a" stroke-width="0" fill="#a4a4a4"/>
<path d="M305.76,374.3 V365.8 L306.96,362.4 H309.76 L310.96,365.8 V374.3" stroke="#2a2a2a" stroke-width="0.9" fill="none" />
<polygon points="307.06,361.9 309.66,361.9 310.36,364.0 306.36,364.0" fill="#333"/>
<circle cx="308.36" cy="369.3" r="1.3" stroke="#2a2a2a" stroke-width="0.8" fill="none"/>
<rect x="318.27" y="366" width="2.1" height="8.3" rx="0" stroke="#2a2a2a" stroke-width="0" fill="#a4a4a4"/>
<path d="M313.07,374.3 V366.6 Q313.07,364.5 314.67,364.5 H316.67 Q318.27,364.5 318.27,366.6 V374.3" stroke="#2a2a2a" stroke-width="1.1" fill="none" />
<line x1="315.67" y1="366.6" x2="315.67" y2="371.4" stroke="#555" stroke-width="0.9"/>
<rect x="325.58" y="366" width="2.1" height="8.3" rx="0" stroke="#2a2a2a" stroke-width="0" fill="#a4a4a4"/>
<path d="M320.38,374.3 V365.8 L321.58,362.4 H324.38 L325.58,365.8 V374.3" stroke="#2a2a2a" stroke-width="0.9" fill="none" />
<polygon points="321.68,361.9 324.28,361.9 324.98,364.0 320.98,364.0" fill="#333"/>
<circle cx="322.98" cy="369.3" r="1.3" stroke="#2a2a2a" stroke-width="0.8" fill="none"/>
<rect x="332.9" y="366" width="2.1" height="8.3" rx="0" stroke="#2a2a2a" stroke-width="0" fill="#a4a4a4"/>
<path d="M327.7,374.3 V366.6 Q327.7,364.5 329.3,364.5 H331.3 Q332.9,364.5 332.9,366.6 V374.3 Z" stroke="#2a2a2a" stroke-width="0.5" fill="#5a5a5a" />
<rect x="340.21" y="366" width="2.1" height="8.3" rx="0" stroke="#2a2a2a" stroke-width="0" fill="#a4a4a4"/>
<path d="M335.01,374.3 V365.8 L336.21,362.4 H339.01 L340.21,365.8 V374.3" stroke="#2a2a2a" stroke-width="0.9" fill="none" />
<polygon points="336.31,361.9 338.91,361.9 339.61,364.0 335.61,364.0" fill="#333"/>
<circle cx="337.61" cy="369.3" r="1.3" stroke="#2a2a2a" stroke-width="0.8" fill="none"/>
<rect x="347.53" y="366" width="2.1" height="8.3" rx="0" stroke="#2a2a2a" stroke-width="0" fill="#a4a4a4"/>
<path d="M342.33,374.3 V366.6 Q342.33,364.5 343.93,364.5 H345.93 Q347.53,364.5 347.53,366.6 V374.3" stroke="#2a2a2a" stroke-width="1.1" fill="none" />
<line x1="344.93" y1="366.6" x2="344.93" y2="371.4" stroke="#555" stroke-width="0.9"/>
<rect x="354.84" y="366" width="2.1" height="8.3" rx="0" stroke="#2a2a2a" stroke-width="0" fill="#a4a4a4"/>
<path d="M349.64,374.3 V365.8 L350.84,362.4 H353.64 L354.84,365.8 V374.3" stroke="#2a2a2a" stroke-width="0.9" fill="none" />
<polygon points="350.94,361.9 353.54,361.9 354.24,364.0 350.24,364.0" fill="#333"/>
<circle cx="352.24" cy="369.3" r="1.3" stroke="#2a2a2a" stroke-width="0.8" fill="none"/>
<rect x="362.15" y="366" width="2.1" height="8.3" rx="0" stroke="#2a2a2a" stroke-width="0" fill="#a4a4a4"/>
<path d="M356.95,374.3 V366.6 Q356.95,364.5 358.55,364.5 H360.55 Q362.15,364.5 362.15,366.6 V374.3" stroke="#2a2a2a" stroke-width="1.1" fill="none" />
<line x1="359.55" y1="366.6" x2="359.55" y2="371.4" stroke="#555" stroke-width="0.9"/>
<rect x="369.47" y="366" width="2.1" height="8.3" rx="0" stroke="#2a2a2a" stroke-width="0" fill="#a4a4a4"/>
<path d="M364.27,374.3 V365.8 L365.47,362.4 H368.27 L369.47,365.8 V374.3" stroke="#2a2a2a" stroke-width="0.9" fill="none" />
<polygon points="365.57,361.9 368.17,361.9 368.87,364.0 364.87,364.0" fill="#333"/>
<circle cx="366.87" cy="369.3" r="1.3" stroke="#2a2a2a" stroke-width="0.8" fill="none"/>
<rect x="376.78" y="366" width="2.1" height="8.3" rx="0" stroke="#2a2a2a" stroke-width="0" fill="#a4a4a4"/>
<path d="M371.58,374.3 V366.6 Q371.58,364.5 373.18,364.5 H375.18 Q376.78,364.5 376.78,366.6 V374.3" stroke="#2a2a2a" stroke-width="1.1" fill="none" />
<line x1="374.18" y1="366.6" x2="374.18" y2="371.4" stroke="#555" stroke-width="0.9"/>
<rect x="384.1" y="366" width="2.1" height="8.3" rx="0" stroke="#2a2a2a" stroke-width="0" fill="#a4a4a4"/>
<path d="M378.9,374.3 V365.8 L380.1,362.4 H382.9 L384.1,365.8 V374.3" stroke="#2a2a2a" stroke-width="0.9" fill="none" />
<polygon points="380.2,361.9 382.8,361.9 383.5,364.0 379.5,364.0" fill="#333"/>
<circle cx="381.5" cy="369.3" r="1.3" stroke="#2a2a2a" stroke-width="0.8" fill="none"/>
<rect x="391.41" y="366" width="2.1" height="8.3" rx="0" stroke="#2a2a2a" stroke-width="0" fill="#a4a4a4"/>
<path d="M386.21,374.3 V366.6 Q386.21,364.5 387.81,364.5 H389.81 Q391.41,364.5 391.41,366.6 V374.3 Z" stroke="#2a2a2a" stroke-width="0.5" fill="#5a5a5a" />
<rect x="398.72" y="366" width="2.1" height="8.3" rx="0" stroke="#2a2a2a" stroke-width="0" fill="#a4a4a4"/>
<path d="M393.52,374.3 V365.8 L394.72,362.4 H397.52 L398.72,365.8 V374.3" stroke="#2a2a2a" stroke-width="0.9" fill="none" />
<polygon points="394.82,361.9 397.42,361.9 398.12,364.0 394.12,364.0" fill="#333"/>
<circle cx="396.12" cy="369.3" r="1.3" stroke="#2a2a2a" stroke-width="0.8" fill="none"/>
<rect x="406.04" y="366" width="2.1" height="8.3" rx="0" stroke="#2a2a2a" stroke-width="0" fill="#a4a4a4"/>
<path d="M400.84,374.3 V366.6 Q400.84,364.5 402.44,364.5 H404.44 Q406.04,364.5 406.04,366.6 V374.3" stroke="#2a2a2a" stroke-width="1.1" fill="none" />
<line x1="403.44" y1="366.6" x2="403.44" y2="371.4" stroke="#555" stroke-width="0.9"/>
<rect x="413.35" y="366" width="2.1" height="8.3" rx="0" stroke="#2a2a2a" stroke-width="0" fill="#a4a4a4"/>
<path d="M408.15,374.3 V365.8 L409.35,362.4 H412.15 L413.35,365.8 V374.3" stroke="#2a2a2a" stroke-width="0.9" fill="none" />
<polygon points="409.45,361.9 412.05,361.9 412.75,364.0 408.75,364.0" fill="#333"/>
<circle cx="410.75" cy="369.3" r="1.3" stroke="#2a2a2a" stroke-width="0.8" fill="none"/>
<rect x="420.67" y="366" width="2.1" height="8.3" rx="0" stroke="#2a2a2a" stroke-width="0" fill="#a4a4a4"/>
<path d="M415.47,374.3 V366.6 Q415.47,364.5 417.07,364.5 H419.07 Q420.67,364.5 420.67,366.6 V374.3" stroke="#2a2a2a" stroke-width="1.1" fill="none" />
<line x1="418.07" y1="366.6" x2="418.07" y2="371.4" stroke="#555" stroke-width="0.9"/>
<rect x="427.98" y="366" width="2.1" height="8.3" rx="0" stroke="#2a2a2a" stroke-width="0" fill="#a4a4a4"/>
<path d="M422.78,374.3 V365.8 L423.98,362.4 H426.78 L427.98,365.8 V374.3" stroke="#2a2a2a" stroke-width="0.9" fill="none" />
<polygon points="424.08,361.9 426.68,361.9 427.38,364.0 423.38,364.0" fill="#333"/>
<circle cx="425.38" cy="369.3" r="1.3" stroke="#2a2a2a" stroke-width="0.8" fill="none"/>
<rect x="435.29" y="366" width="2.1" height="8.3" rx="0" stroke="#2a2a2a" stroke-width="0" fill="#a4a4a4"/>
<path d="M430.09,374.3 V366.6 Q430.09,364.5 431.69,364.5 H433.69 Q435.29,364.5 435.29,366.6 V374.3" stroke="#2a2a2a" stroke-width="1.1" fill="none" />
<line x1="432.69" y1="366.6" x2="432.69" y2="371.4" stroke="#555" stroke-width="0.9"/>
<rect x="442.61" y="366" width="2.1" height="8.3" rx="0" stroke="#2a2a2a" stroke-width="0" fill="#a4a4a4"/>
<path d="M437.41,374.3 V365.8 L438.61,362.4 H441.41 L442.61,365.8 V374.3" stroke="#2a2a2a" stroke-width="0.9" fill="none" />
<polygon points="438.71,361.9 441.31,361.9 442.01,364.0 438.01,364.0" fill="#333"/>
<circle cx="440.01" cy="369.3" r="1.3" stroke="#2a2a2a" stroke-width="0.8" fill="none"/>
<line x1="330.3" y1="364.4" x2="330.3" y2="385.5" stroke="#111" stroke-width="1.6"/>
<line x1="388.8" y1="364.4" x2="388.8" y2="385.5" stroke="#111" stroke-width="1.6"/>
<rect x="482.1" y="374.3" width="175.5" height="10.6" rx="0" stroke="#2a2a2a" stroke-width="0" fill="#ffffff"/>
<line x1="482.1" y1="374.4" x2="657.6" y2="374.4" stroke="#2a2a2a" stroke-width="1.1"/>
<line x1="482.1" y1="377.1" x2="657.6" y2="377.1" stroke="#b4b4b4" stroke-width="0.8"/>
<line x1="482.1" y1="378.6" x2="657.6" y2="378.6" stroke="#4a4a4a" stroke-width="1.0"/>
<line x1="482.1" y1="379.8" x2="657.6" y2="379.8" stroke="#5a5a5a" stroke-width="1.0"/>
<line x1="482.1" y1="381.2" x2="657.6" y2="381.2" stroke="#8a8a8a" stroke-width="1.0"/>
<line x1="482.1" y1="362" x2="482.1" y2="385" stroke="#2a2a2a" stroke-width="1"/>
<line x1="657.6" y1="364" x2="657.6" y2="385" stroke="#2a2a2a" stroke-width="1"/>
<path d="M482.1,374.3 V366.8 Q482.1,364.6 484.3,364.6 H485.3 V374.3 Z" stroke="#2a2a2a" stroke-width="0" fill="#5a5a5a" />
<path d="M657.6,374.3 V366.8 Q657.6,364.6 655.4,364.6 H654.4 V374.3 Z" stroke="#2a2a2a" stroke-width="0" fill="#5a5a5a" />
<rect x="492.3" y="366" width="2.1" height="8.3" rx="0" stroke="#2a2a2a" stroke-width="0" fill="#a4a4a4"/>
<path d="M487.1,374.3 V365.8 L488.3,362.4 H491.1 L492.3,365.8 V374.3" stroke="#2a2a2a" stroke-width="0.9" fill="none" />
<polygon points="488.4,361.9 491,361.9 491.7,364.0 487.7,364.0" fill="#333"/>
<circle cx="489.7" cy="369.3" r="1.3" stroke="#2a2a2a" stroke-width="0.8" fill="none"/>
<rect x="499.61" y="366" width="2.1" height="8.3" rx="0" stroke="#2a2a2a" stroke-width="0" fill="#a4a4a4"/>
<path d="M494.41,374.3 V366.6 Q494.41,364.5 496.01,364.5 H498.01 Q499.61,364.5 499.61,366.6 V374.3" stroke="#2a2a2a" stroke-width="1.1" fill="none" />
<line x1="497.01" y1="366.6" x2="497.01" y2="371.4" stroke="#555" stroke-width="0.9"/>
<rect x="506.93" y="366" width="2.1" height="8.3" rx="0" stroke="#2a2a2a" stroke-width="0" fill="#a4a4a4"/>
<path d="M501.73,374.3 V365.8 L502.93,362.4 H505.73 L506.93,365.8 V374.3" stroke="#2a2a2a" stroke-width="0.9" fill="none" />
<polygon points="503.03,361.9 505.63,361.9 506.33,364.0 502.33,364.0" fill="#333"/>
<circle cx="504.33" cy="369.3" r="1.3" stroke="#2a2a2a" stroke-width="0.8" fill="none"/>
<rect x="514.24" y="366" width="2.1" height="8.3" rx="0" stroke="#2a2a2a" stroke-width="0" fill="#a4a4a4"/>
<path d="M509.04,374.3 V366.6 Q509.04,364.5 510.64,364.5 H512.64 Q514.24,364.5 514.24,366.6 V374.3" stroke="#2a2a2a" stroke-width="1.1" fill="none" />
<line x1="511.64" y1="366.6" x2="511.64" y2="371.4" stroke="#555" stroke-width="0.9"/>
<rect x="521.56" y="366" width="2.1" height="8.3" rx="0" stroke="#2a2a2a" stroke-width="0" fill="#a4a4a4"/>
<path d="M516.36,374.3 V365.8 L517.56,362.4 H520.36 L521.56,365.8 V374.3" stroke="#2a2a2a" stroke-width="0.9" fill="none" />
<polygon points="517.66,361.9 520.26,361.9 520.96,364.0 516.96,364.0" fill="#333"/>
<circle cx="518.96" cy="369.3" r="1.3" stroke="#2a2a2a" stroke-width="0.8" fill="none"/>
<rect x="528.87" y="366" width="2.1" height="8.3" rx="0" stroke="#2a2a2a" stroke-width="0" fill="#a4a4a4"/>
<path d="M523.67,374.3 V366.6 Q523.67,364.5 525.27,364.5 H527.27 Q528.87,364.5 528.87,366.6 V374.3" stroke="#2a2a2a" stroke-width="1.1" fill="none" />
<line x1="526.27" y1="366.6" x2="526.27" y2="371.4" stroke="#555" stroke-width="0.9"/>
<rect x="536.18" y="366" width="2.1" height="8.3" rx="0" stroke="#2a2a2a" stroke-width="0" fill="#a4a4a4"/>
<path d="M530.98,374.3 V365.8 L532.18,362.4 H534.98 L536.18,365.8 V374.3" stroke="#2a2a2a" stroke-width="0.9" fill="none" />
<polygon points="532.28,361.9 534.88,361.9 535.58,364.0 531.58,364.0" fill="#333"/>
<circle cx="533.58" cy="369.3" r="1.3" stroke="#2a2a2a" stroke-width="0.8" fill="none"/>
<rect x="543.5" y="366" width="2.1" height="8.3" rx="0" stroke="#2a2a2a" stroke-width="0" fill="#a4a4a4"/>
<path d="M538.3,374.3 V366.6 Q538.3,364.5 539.9,364.5 H541.9 Q543.5,364.5 543.5,366.6 V374.3 Z" stroke="#2a2a2a" stroke-width="0.5" fill="#5a5a5a" />
<rect x="550.81" y="366" width="2.1" height="8.3" rx="0" stroke="#2a2a2a" stroke-width="0" fill="#a4a4a4"/>
<path d="M545.61,374.3 V365.8 L546.81,362.4 H549.61 L550.81,365.8 V374.3" stroke="#2a2a2a" stroke-width="0.9" fill="none" />
<polygon points="546.91,361.9 549.51,361.9 550.21,364.0 546.21,364.0" fill="#333"/>
<circle cx="548.21" cy="369.3" r="1.3" stroke="#2a2a2a" stroke-width="0.8" fill="none"/>
<rect x="558.13" y="366" width="2.1" height="8.3" rx="0" stroke="#2a2a2a" stroke-width="0" fill="#a4a4a4"/>
<path d="M552.93,374.3 V366.6 Q552.93,364.5 554.53,364.5 H556.53 Q558.13,364.5 558.13,366.6 V374.3" stroke="#2a2a2a" stroke-width="1.1" fill="none" />
<line x1="555.53" y1="366.6" x2="555.53" y2="371.4" stroke="#555" stroke-width="0.9"/>
<rect x="565.44" y="366" width="2.1" height="8.3" rx="0" stroke="#2a2a2a" stroke-width="0" fill="#a4a4a4"/>
<path d="M560.24,374.3 V365.8 L561.44,362.4 H564.24 L565.44,365.8 V374.3" stroke="#2a2a2a" stroke-width="0.9" fill="none" />
<polygon points="561.54,361.9 564.14,361.9 564.84,364.0 560.84,364.0" fill="#333"/>
<circle cx="562.84" cy="369.3" r="1.3" stroke="#2a2a2a" stroke-width="0.8" fill="none"/>
<rect x="572.75" y="366" width="2.1" height="8.3" rx="0" stroke="#2a2a2a" stroke-width="0" fill="#a4a4a4"/>
<path d="M567.55,374.3 V366.6 Q567.55,364.5 569.15,364.5 H571.15 Q572.75,364.5 572.75,366.6 V374.3" stroke="#2a2a2a" stroke-width="1.1" fill="none" />
<line x1="570.15" y1="366.6" x2="570.15" y2="371.4" stroke="#555" stroke-width="0.9"/>
<rect x="580.07" y="366" width="2.1" height="8.3" rx="0" stroke="#2a2a2a" stroke-width="0" fill="#a4a4a4"/>
<path d="M574.87,374.3 V365.8 L576.07,362.4 H578.87 L580.07,365.8 V374.3" stroke="#2a2a2a" stroke-width="0.9" fill="none" />
<polygon points="576.17,361.9 578.77,361.9 579.47,364.0 575.47,364.0" fill="#333"/>
<circle cx="577.47" cy="369.3" r="1.3" stroke="#2a2a2a" stroke-width="0.8" fill="none"/>
<rect x="587.38" y="366" width="2.1" height="8.3" rx="0" stroke="#2a2a2a" stroke-width="0" fill="#a4a4a4"/>
<path d="M582.18,374.3 V366.6 Q582.18,364.5 583.78,364.5 H585.78 Q587.38,364.5 587.38,366.6 V374.3" stroke="#2a2a2a" stroke-width="1.1" fill="none" />
<line x1="584.78" y1="366.6" x2="584.78" y2="371.4" stroke="#555" stroke-width="0.9"/>
<rect x="594.7" y="366" width="2.1" height="8.3" rx="0" stroke="#2a2a2a" stroke-width="0" fill="#a4a4a4"/>
<path d="M589.5,374.3 V365.8 L590.7,362.4 H593.5 L594.7,365.8 V374.3" stroke="#2a2a2a" stroke-width="0.9" fill="none" />
<polygon points="590.8,361.9 593.4,361.9 594.1,364.0 590.1,364.0" fill="#333"/>
<circle cx="592.1" cy="369.3" r="1.3" stroke="#2a2a2a" stroke-width="0.8" fill="none"/>
<rect x="602.01" y="366" width="2.1" height="8.3" rx="0" stroke="#2a2a2a" stroke-width="0" fill="#a4a4a4"/>
<path d="M596.81,374.3 V366.6 Q596.81,364.5 598.41,364.5 H600.41 Q602.01,364.5 602.01,366.6 V374.3 Z" stroke="#2a2a2a" stroke-width="0.5" fill="#5a5a5a" />
<rect x="609.32" y="366" width="2.1" height="8.3" rx="0" stroke="#2a2a2a" stroke-width="0" fill="#a4a4a4"/>
<path d="M604.12,374.3 V365.8 L605.32,362.4 H608.12 L609.32,365.8 V374.3" stroke="#2a2a2a" stroke-width="0.9" fill="none" />
<polygon points="605.42,361.9 608.02,361.9 608.72,364.0 604.72,364.0" fill="#333"/>
<circle cx="606.72" cy="369.3" r="1.3" stroke="#2a2a2a" stroke-width="0.8" fill="none"/>
<rect x="616.64" y="366" width="2.1" height="8.3" rx="0" stroke="#2a2a2a" stroke-width="0" fill="#a4a4a4"/>
<path d="M611.44,374.3 V366.6 Q611.44,364.5 613.04,364.5 H615.04 Q616.64,364.5 616.64,366.6 V374.3" stroke="#2a2a2a" stroke-width="1.1" fill="none" />
<line x1="614.04" y1="366.6" x2="614.04" y2="371.4" stroke="#555" stroke-width="0.9"/>
<rect x="623.95" y="366" width="2.1" height="8.3" rx="0" stroke="#2a2a2a" stroke-width="0" fill="#a4a4a4"/>
<path d="M618.75,374.3 V365.8 L619.95,362.4 H622.75 L623.95,365.8 V374.3" stroke="#2a2a2a" stroke-width="0.9" fill="none" />
<polygon points="620.05,361.9 622.65,361.9 623.35,364.0 619.35,364.0" fill="#333"/>
<circle cx="621.35" cy="369.3" r="1.3" stroke="#2a2a2a" stroke-width="0.8" fill="none"/>
<rect x="631.27" y="366" width="2.1" height="8.3" rx="0" stroke="#2a2a2a" stroke-width="0" fill="#a4a4a4"/>
<path d="M626.07,374.3 V366.6 Q626.07,364.5 627.67,364.5 H629.67 Q631.27,364.5 631.27,366.6 V374.3" stroke="#2a2a2a" stroke-width="1.1" fill="none" />
<line x1="628.67" y1="366.6" x2="628.67" y2="371.4" stroke="#555" stroke-width="0.9"/>
<rect x="638.58" y="366" width="2.1" height="8.3" rx="0" stroke="#2a2a2a" stroke-width="0" fill="#a4a4a4"/>
<path d="M633.38,374.3 V365.8 L634.58,362.4 H637.38 L638.58,365.8 V374.3" stroke="#2a2a2a" stroke-width="0.9" fill="none" />
<polygon points="634.68,361.9 637.28,361.9 637.98,364.0 633.98,364.0" fill="#333"/>
<circle cx="635.98" cy="369.3" r="1.3" stroke="#2a2a2a" stroke-width="0.8" fill="none"/>
<rect x="645.89" y="366" width="2.1" height="8.3" rx="0" stroke="#2a2a2a" stroke-width="0" fill="#a4a4a4"/>
<path d="M640.69,374.3 V366.6 Q640.69,364.5 642.29,364.5 H644.29 Q645.89,364.5 645.89,366.6 V374.3" stroke="#2a2a2a" stroke-width="1.1" fill="none" />
<line x1="643.29" y1="366.6" x2="643.29" y2="371.4" stroke="#555" stroke-width="0.9"/>
<rect x="653.21" y="366" width="2.1" height="8.3" rx="0" stroke="#2a2a2a" stroke-width="0" fill="#a4a4a4"/>
<path d="M648.01,374.3 V365.8 L649.21,362.4 H652.01 L653.21,365.8 V374.3" stroke="#2a2a2a" stroke-width="0.9" fill="none" />
<polygon points="649.31,361.9 651.91,361.9 652.61,364.0 648.61,364.0" fill="#333"/>
<circle cx="650.61" cy="369.3" r="1.3" stroke="#2a2a2a" stroke-width="0.8" fill="none"/>
<line x1="540.9" y1="364.4" x2="540.9" y2="385.5" stroke="#111" stroke-width="1.6"/>
<line x1="599.4" y1="364.4" x2="599.4" y2="385.5" stroke="#111" stroke-width="1.6"/>
<rect x="692.7" y="374.3" width="175.5" height="10.6" rx="0" stroke="#2a2a2a" stroke-width="0" fill="#ffffff"/>
<line x1="692.7" y1="374.4" x2="868.2" y2="374.4" stroke="#2a2a2a" stroke-width="1.1"/>
<line x1="692.7" y1="377.1" x2="868.2" y2="377.1" stroke="#b4b4b4" stroke-width="0.8"/>
<line x1="692.7" y1="378.6" x2="868.2" y2="378.6" stroke="#4a4a4a" stroke-width="1.0"/>
<line x1="692.7" y1="379.8" x2="868.2" y2="379.8" stroke="#5a5a5a" stroke-width="1.0"/>
<line x1="692.7" y1="381.2" x2="868.2" y2="381.2" stroke="#8a8a8a" stroke-width="1.0"/>
<line x1="692.7" y1="362" x2="692.7" y2="385" stroke="#2a2a2a" stroke-width="1"/>
<line x1="868.2" y1="364" x2="868.2" y2="385" stroke="#2a2a2a" stroke-width="1"/>
<path d="M692.7,374.3 V366.8 Q692.7,364.6 694.9,364.6 H695.9 V374.3 Z" stroke="#2a2a2a" stroke-width="0" fill="#5a5a5a" />
<path d="M868.2,374.3 V366.8 Q868.2,364.6 866,364.6 H865 V374.3 Z" stroke="#2a2a2a" stroke-width="0" fill="#5a5a5a" />
<rect x="702.9" y="366" width="2.1" height="8.3" rx="0" stroke="#2a2a2a" stroke-width="0" fill="#a4a4a4"/>
<path d="M697.7,374.3 V365.8 L698.9,362.4 H701.7 L702.9,365.8 V374.3" stroke="#2a2a2a" stroke-width="0.9" fill="none" />
<polygon points="699,361.9 701.6,361.9 702.3,364.0 698.3,364.0" fill="#333"/>
<circle cx="700.3" cy="369.3" r="1.3" stroke="#2a2a2a" stroke-width="0.8" fill="none"/>
<rect x="710.21" y="366" width="2.1" height="8.3" rx="0" stroke="#2a2a2a" stroke-width="0" fill="#a4a4a4"/>
<path d="M705.01,374.3 V366.6 Q705.01,364.5 706.61,364.5 H708.61 Q710.21,364.5 710.21,366.6 V374.3" stroke="#2a2a2a" stroke-width="1.1" fill="none" />
<line x1="707.61" y1="366.6" x2="707.61" y2="371.4" stroke="#555" stroke-width="0.9"/>
<rect x="717.53" y="366" width="2.1" height="8.3" rx="0" stroke="#2a2a2a" stroke-width="0" fill="#a4a4a4"/>
<path d="M712.33,374.3 V365.8 L713.53,362.4 H716.33 L717.53,365.8 V374.3" stroke="#2a2a2a" stroke-width="0.9" fill="none" />
<polygon points="713.63,361.9 716.23,361.9 716.93,364.0 712.93,364.0" fill="#333"/>
<circle cx="714.93" cy="369.3" r="1.3" stroke="#2a2a2a" stroke-width="0.8" fill="none"/>
<rect x="724.84" y="366" width="2.1" height="8.3" rx="0" stroke="#2a2a2a" stroke-width="0" fill="#a4a4a4"/>
<path d="M719.64,374.3 V366.6 Q719.64,364.5 721.24,364.5 H723.24 Q724.84,364.5 724.84,366.6 V374.3" stroke="#2a2a2a" stroke-width="1.1" fill="none" />
<line x1="722.24" y1="366.6" x2="722.24" y2="371.4" stroke="#555" stroke-width="0.9"/>
<rect x="732.16" y="366" width="2.1" height="8.3" rx="0" stroke="#2a2a2a" stroke-width="0" fill="#a4a4a4"/>
<path d="M726.96,374.3 V365.8 L728.16,362.4 H730.96 L732.16,365.8 V374.3" stroke="#2a2a2a" stroke-width="0.9" fill="none" />
<polygon points="728.26,361.9 730.86,361.9 731.56,364.0 727.56,364.0" fill="#333"/>
<circle cx="729.56" cy="369.3" r="1.3" stroke="#2a2a2a" stroke-width="0.8" fill="none"/>
<rect x="739.47" y="366" width="2.1" height="8.3" rx="0" stroke="#2a2a2a" stroke-width="0" fill="#a4a4a4"/>
<path d="M734.27,374.3 V366.6 Q734.27,364.5 735.87,364.5 H737.87 Q739.47,364.5 739.47,366.6 V374.3" stroke="#2a2a2a" stroke-width="1.1" fill="none" />
<line x1="736.87" y1="366.6" x2="736.87" y2="371.4" stroke="#555" stroke-width="0.9"/>
<rect x="746.78" y="366" width="2.1" height="8.3" rx="0" stroke="#2a2a2a" stroke-width="0" fill="#a4a4a4"/>
<path d="M741.58,374.3 V365.8 L742.78,362.4 H745.58 L746.78,365.8 V374.3" stroke="#2a2a2a" stroke-width="0.9" fill="none" />
<polygon points="742.88,361.9 745.48,361.9 746.18,364.0 742.18,364.0" fill="#333"/>
<circle cx="744.18" cy="369.3" r="1.3" stroke="#2a2a2a" stroke-width="0.8" fill="none"/>
<rect x="754.1" y="366" width="2.1" height="8.3" rx="0" stroke="#2a2a2a" stroke-width="0" fill="#a4a4a4"/>
<path d="M748.9,374.3 V366.6 Q748.9,364.5 750.5,364.5 H752.5 Q754.1,364.5 754.1,366.6 V374.3 Z" stroke="#2a2a2a" stroke-width="0.5" fill="#5a5a5a" />
<rect x="761.41" y="366" width="2.1" height="8.3" rx="0" stroke="#2a2a2a" stroke-width="0" fill="#a4a4a4"/>
<path d="M756.21,374.3 V365.8 L757.41,362.4 H760.21 L761.41,365.8 V374.3" stroke="#2a2a2a" stroke-width="0.9" fill="none" />
<polygon points="757.51,361.9 760.11,361.9 760.81,364.0 756.81,364.0" fill="#333"/>
<circle cx="758.81" cy="369.3" r="1.3" stroke="#2a2a2a" stroke-width="0.8" fill="none"/>
<rect x="768.73" y="366" width="2.1" height="8.3" rx="0" stroke="#2a2a2a" stroke-width="0" fill="#a4a4a4"/>
<path d="M763.53,374.3 V366.6 Q763.53,364.5 765.13,364.5 H767.13 Q768.73,364.5 768.73,366.6 V374.3" stroke="#2a2a2a" stroke-width="1.1" fill="none" />
<line x1="766.13" y1="366.6" x2="766.13" y2="371.4" stroke="#555" stroke-width="0.9"/>
<rect x="776.04" y="366" width="2.1" height="8.3" rx="0" stroke="#2a2a2a" stroke-width="0" fill="#a4a4a4"/>
<path d="M770.84,374.3 V365.8 L772.04,362.4 H774.84 L776.04,365.8 V374.3" stroke="#2a2a2a" stroke-width="0.9" fill="none" />
<polygon points="772.14,361.9 774.74,361.9 775.44,364.0 771.44,364.0" fill="#333"/>
<circle cx="773.44" cy="369.3" r="1.3" stroke="#2a2a2a" stroke-width="0.8" fill="none"/>
<rect x="783.35" y="366" width="2.1" height="8.3" rx="0" stroke="#2a2a2a" stroke-width="0" fill="#a4a4a4"/>
<path d="M778.15,374.3 V366.6 Q778.15,364.5 779.75,364.5 H781.75 Q783.35,364.5 783.35,366.6 V374.3" stroke="#2a2a2a" stroke-width="1.1" fill="none" />
<line x1="780.75" y1="366.6" x2="780.75" y2="371.4" stroke="#555" stroke-width="0.9"/>
<rect x="790.67" y="366" width="2.1" height="8.3" rx="0" stroke="#2a2a2a" stroke-width="0" fill="#a4a4a4"/>
<path d="M785.47,374.3 V365.8 L786.67,362.4 H789.47 L790.67,365.8 V374.3" stroke="#2a2a2a" stroke-width="0.9" fill="none" />
<polygon points="786.77,361.9 789.37,361.9 790.07,364.0 786.07,364.0" fill="#333"/>
<circle cx="788.07" cy="369.3" r="1.3" stroke="#2a2a2a" stroke-width="0.8" fill="none"/>
<rect x="797.98" y="366" width="2.1" height="8.3" rx="0" stroke="#2a2a2a" stroke-width="0" fill="#a4a4a4"/>
<path d="M792.78,374.3 V366.6 Q792.78,364.5 794.38,364.5 H796.38 Q797.98,364.5 797.98,366.6 V374.3" stroke="#2a2a2a" stroke-width="1.1" fill="none" />
<line x1="795.38" y1="366.6" x2="795.38" y2="371.4" stroke="#555" stroke-width="0.9"/>
<rect x="805.3" y="366" width="2.1" height="8.3" rx="0" stroke="#2a2a2a" stroke-width="0" fill="#a4a4a4"/>
<path d="M800.1,374.3 V365.8 L801.3,362.4 H804.1 L805.3,365.8 V374.3" stroke="#2a2a2a" stroke-width="0.9" fill="none" />
<polygon points="801.4,361.9 804,361.9 804.7,364.0 800.7,364.0" fill="#333"/>
<circle cx="802.7" cy="369.3" r="1.3" stroke="#2a2a2a" stroke-width="0.8" fill="none"/>
<rect x="812.61" y="366" width="2.1" height="8.3" rx="0" stroke="#2a2a2a" stroke-width="0" fill="#a4a4a4"/>
<path d="M807.41,374.3 V366.6 Q807.41,364.5 809.01,364.5 H811.01 Q812.61,364.5 812.61,366.6 V374.3 Z" stroke="#2a2a2a" stroke-width="0.5" fill="#5a5a5a" />
<rect x="819.92" y="366" width="2.1" height="8.3" rx="0" stroke="#2a2a2a" stroke-width="0" fill="#a4a4a4"/>
<path d="M814.72,374.3 V365.8 L815.92,362.4 H818.72 L819.92,365.8 V374.3" stroke="#2a2a2a" stroke-width="0.9" fill="none" />
<polygon points="816.02,361.9 818.62,361.9 819.32,364.0 815.32,364.0" fill="#333"/>
<circle cx="817.32" cy="369.3" r="1.3" stroke="#2a2a2a" stroke-width="0.8" fill="none"/>
<rect x="827.24" y="366" width="2.1" height="8.3" rx="0" stroke="#2a2a2a" stroke-width="0" fill="#a4a4a4"/>
<path d="M822.04,374.3 V366.6 Q822.04,364.5 823.64,364.5 H825.64 Q827.24,364.5 827.24,366.6 V374.3" stroke="#2a2a2a" stroke-width="1.1" fill="none" />
<line x1="824.64" y1="366.6" x2="824.64" y2="371.4" stroke="#555" stroke-width="0.9"/>
<rect x="834.55" y="366" width="2.1" height="8.3" rx="0" stroke="#2a2a2a" stroke-width="0" fill="#a4a4a4"/>
<path d="M829.35,374.3 V365.8 L830.55,362.4 H833.35 L834.55,365.8 V374.3" stroke="#2a2a2a" stroke-width="0.9" fill="none" />
<polygon points="830.65,361.9 833.25,361.9 833.95,364.0 829.95,364.0" fill="#333"/>
<circle cx="831.95" cy="369.3" r="1.3" stroke="#2a2a2a" stroke-width="0.8" fill="none"/>
<rect x="841.87" y="366" width="2.1" height="8.3" rx="0" stroke="#2a2a2a" stroke-width="0" fill="#a4a4a4"/>
<path d="M836.67,374.3 V366.6 Q836.67,364.5 838.27,364.5 H840.27 Q841.87,364.5 841.87,366.6 V374.3" stroke="#2a2a2a" stroke-width="1.1" fill="none" />
<line x1="839.27" y1="366.6" x2="839.27" y2="371.4" stroke="#555" stroke-width="0.9"/>
<rect x="849.18" y="366" width="2.1" height="8.3" rx="0" stroke="#2a2a2a" stroke-width="0" fill="#a4a4a4"/>
<path d="M843.98,374.3 V365.8 L845.18,362.4 H847.98 L849.18,365.8 V374.3" stroke="#2a2a2a" stroke-width="0.9" fill="none" />
<polygon points="845.28,361.9 847.88,361.9 848.58,364.0 844.58,364.0" fill="#333"/>
<circle cx="846.58" cy="369.3" r="1.3" stroke="#2a2a2a" stroke-width="0.8" fill="none"/>
<rect x="856.49" y="366" width="2.1" height="8.3" rx="0" stroke="#2a2a2a" stroke-width="0" fill="#a4a4a4"/>
<path d="M851.29,374.3 V366.6 Q851.29,364.5 852.89,364.5 H854.89 Q856.49,364.5 856.49,366.6 V374.3" stroke="#2a2a2a" stroke-width="1.1" fill="none" />
<line x1="853.89" y1="366.6" x2="853.89" y2="371.4" stroke="#555" stroke-width="0.9"/>
<rect x="863.81" y="366" width="2.1" height="8.3" rx="0" stroke="#2a2a2a" stroke-width="0" fill="#a4a4a4"/>
<path d="M858.61,374.3 V365.8 L859.81,362.4 H862.61 L863.81,365.8 V374.3" stroke="#2a2a2a" stroke-width="0.9" fill="none" />
<polygon points="859.91,361.9 862.51,361.9 863.21,364.0 859.21,364.0" fill="#333"/>
<circle cx="861.21" cy="369.3" r="1.3" stroke="#2a2a2a" stroke-width="0.8" fill="none"/>
<line x1="751.5" y1="364.4" x2="751.5" y2="385.5" stroke="#111" stroke-width="1.6"/>
<line x1="810" y1="364.4" x2="810" y2="385.5" stroke="#111" stroke-width="1.6"/>
<rect x="44.2" y="378.2" width="14.2" height="7" rx="0" stroke="#2a2a2a" stroke-width="0.9" fill="none"/>
<line x1="47.2" y1="378.2" x2="47.2" y2="385.2" stroke="#555" stroke-width="0.8"/>
<line x1="55.6" y1="378.2" x2="55.6" y2="385.2" stroke="#555" stroke-width="0.8"/>
<line x1="47.2" y1="381.2" x2="55.6" y2="381.2" stroke="#555" stroke-width="0.8"/>
<rect x="872.3" y="378.2" width="13" height="7" rx="0" stroke="#2a2a2a" stroke-width="0.9" fill="none"/>
<line x1="875.3" y1="378.2" x2="875.3" y2="385.2" stroke="#555" stroke-width="0.8"/>
<line x1="882.5" y1="378.2" x2="882.5" y2="385.2" stroke="#555" stroke-width="0.8"/>
<line x1="875.3" y1="381.2" x2="882.5" y2="381.2" stroke="#555" stroke-width="0.8"/>
<rect x="240.2" y="378.2" width="14.3" height="7" rx="0" stroke="#2a2a2a" stroke-width="0.9" fill="none"/>
<line x1="243.2" y1="378.2" x2="243.2" y2="385.2" stroke="#555" stroke-width="0.8"/>
<line x1="251.7" y1="378.2" x2="251.7" y2="385.2" stroke="#555" stroke-width="0.8"/>
<line x1="243.2" y1="381.2" x2="251.7" y2="381.2" stroke="#555" stroke-width="0.8"/>
<rect x="254.5" y="378.2" width="14.3" height="7" rx="0" stroke="#2a2a2a" stroke-width="0.9" fill="none"/>
<line x1="257.5" y1="378.2" x2="257.5" y2="385.2" stroke="#555" stroke-width="0.8"/>
<line x1="266" y1="378.2" x2="266" y2="385.2" stroke="#555" stroke-width="0.8"/>
<line x1="257.5" y1="381.2" x2="266" y2="381.2" stroke="#555" stroke-width="0.8"/>
<line x1="254.5" y1="378.2" x2="254.5" y2="391.5" stroke="#111" stroke-width="1.2"/>
<rect x="451.1" y="378.2" width="14" height="7" rx="0" stroke="#2a2a2a" stroke-width="0.9" fill="none"/>
<line x1="454.1" y1="378.2" x2="454.1" y2="385.2" stroke="#555" stroke-width="0.8"/>
<line x1="462.3" y1="378.2" x2="462.3" y2="385.2" stroke="#555" stroke-width="0.8"/>
<line x1="454.1" y1="381.2" x2="462.3" y2="381.2" stroke="#555" stroke-width="0.8"/>
<rect x="465.1" y="378.2" width="13.7" height="7" rx="0" stroke="#2a2a2a" stroke-width="0.9" fill="none"/>
<line x1="468.1" y1="378.2" x2="468.1" y2="385.2" stroke="#555" stroke-width="0.8"/>
<line x1="476" y1="378.2" x2="476" y2="385.2" stroke="#555" stroke-width="0.8"/>
<line x1="468.1" y1="381.2" x2="476" y2="381.2" stroke="#555" stroke-width="0.8"/>
<line x1="465.1" y1="378.2" x2="465.1" y2="391.5" stroke="#111" stroke-width="1.2"/>
<rect x="661.4" y="378.2" width="14" height="7" rx="0" stroke="#2a2a2a" stroke-width="0.9" fill="none"/>
<line x1="664.4" y1="378.2" x2="664.4" y2="385.2" stroke="#555" stroke-width="0.8"/>
<line x1="672.6" y1="378.2" x2="672.6" y2="385.2" stroke="#555" stroke-width="0.8"/>
<line x1="664.4" y1="381.2" x2="672.6" y2="381.2" stroke="#555" stroke-width="0.8"/>
<rect x="675.4" y="378.2" width="10.5" height="7" rx="0" stroke="#2a2a2a" stroke-width="0.9" fill="none"/>
<line x1="678.4" y1="378.2" x2="678.4" y2="385.2" stroke="#555" stroke-width="0.8"/>
<line x1="683.1" y1="378.2" x2="683.1" y2="385.2" stroke="#555" stroke-width="0.8"/>
<line x1="678.4" y1="381.2" x2="683.1" y2="381.2" stroke="#555" stroke-width="0.8"/>
<line x1="675.4" y1="378.2" x2="675.4" y2="391.5" stroke="#111" stroke-width="1.2"/>
<line x1="44.2" y1="378.2" x2="44.2" y2="391" stroke="#2a2a2a" stroke-width="1"/>
<line x1="885.3" y1="378.2" x2="885.3" y2="391" stroke="#2a2a2a" stroke-width="1"/>
<line x1="44.2" y1="385.1" x2="885.3" y2="385.1" stroke="#555" stroke-width="1.0"/>
<line x1="41.5" y1="391.2" x2="886.5" y2="391.2" stroke="#111" stroke-width="1.6"/>
<path d="M42,391.2 Q40.6,391.4 40.6,394 V416" stroke="#2a2a2a" stroke-width="1" fill="none" />
<path d="M886.2,391.2 Q887.6,391.4 887.6,394 V416" stroke="#2a2a2a" stroke-width="1" fill="none" />
<rect x="38.4" y="416" width="4.2" height="8.2" rx="0" stroke="#2a2a2a" stroke-width="0.8" fill="#bbb"/>
<rect x="885.4" y="416" width="4.2" height="8.2" rx="0" stroke="#2a2a2a" stroke-width="0.8" fill="#bbb"/>
<rect x="85.2" y="405.3" width="17.6" height="8.2" rx="0" stroke="#2a2a2a" stroke-width="1" fill="#ffffff"/>
<rect x="85.2" y="405.3" width="17.6" height="2.2" rx="0" stroke="#2a2a2a" stroke-width="0" fill="#1e1e1e"/>
<rect x="85.8" y="410.7" width="16.4" height="2.4" rx="0" stroke="#2a2a2a" stroke-width="0" fill="#dcdcdc"/>
<line x1="85.2" y1="410.3" x2="102.8" y2="410.3" stroke="#333" stroke-width="0.9"/>
<rect x="194.8" y="405.3" width="17.6" height="8.2" rx="0" stroke="#2a2a2a" stroke-width="1" fill="#ffffff"/>
<rect x="194.8" y="405.3" width="17.6" height="2.2" rx="0" stroke="#2a2a2a" stroke-width="0" fill="#1e1e1e"/>
<rect x="195.4" y="410.7" width="16.4" height="2.4" rx="0" stroke="#2a2a2a" stroke-width="0" fill="#dcdcdc"/>
<line x1="194.8" y1="410.3" x2="212.4" y2="410.3" stroke="#333" stroke-width="0.9"/>
<rect x="295.8" y="405.3" width="17.6" height="8.2" rx="0" stroke="#2a2a2a" stroke-width="1" fill="#ffffff"/>
<rect x="295.8" y="405.3" width="17.6" height="2.2" rx="0" stroke="#2a2a2a" stroke-width="0" fill="#1e1e1e"/>
<rect x="296.4" y="410.7" width="16.4" height="2.4" rx="0" stroke="#2a2a2a" stroke-width="0" fill="#dcdcdc"/>
<line x1="295.8" y1="410.3" x2="313.4" y2="410.3" stroke="#333" stroke-width="0.9"/>
<rect x="405.4" y="405.3" width="17.6" height="8.2" rx="0" stroke="#2a2a2a" stroke-width="1" fill="#ffffff"/>
<rect x="405.4" y="405.3" width="17.6" height="2.2" rx="0" stroke="#2a2a2a" stroke-width="0" fill="#1e1e1e"/>
<rect x="406" y="410.7" width="16.4" height="2.4" rx="0" stroke="#2a2a2a" stroke-width="0" fill="#dcdcdc"/>
<line x1="405.4" y1="410.3" x2="423" y2="410.3" stroke="#333" stroke-width="0.9"/>
<rect x="506.4" y="405.3" width="17.6" height="8.2" rx="0" stroke="#2a2a2a" stroke-width="1" fill="#ffffff"/>
<rect x="506.4" y="405.3" width="17.6" height="2.2" rx="0" stroke="#2a2a2a" stroke-width="0" fill="#1e1e1e"/>
<rect x="507" y="410.7" width="16.4" height="2.4" rx="0" stroke="#2a2a2a" stroke-width="0" fill="#dcdcdc"/>
<line x1="506.4" y1="410.3" x2="524" y2="410.3" stroke="#333" stroke-width="0.9"/>
<rect x="616" y="405.3" width="17.6" height="8.2" rx="0" stroke="#2a2a2a" stroke-width="1" fill="#ffffff"/>
<rect x="616" y="405.3" width="17.6" height="2.2" rx="0" stroke="#2a2a2a" stroke-width="0" fill="#1e1e1e"/>
<rect x="616.6" y="410.7" width="16.4" height="2.4" rx="0" stroke="#2a2a2a" stroke-width="0" fill="#dcdcdc"/>
<line x1="616" y1="410.3" x2="633.6" y2="410.3" stroke="#333" stroke-width="0.9"/>
<rect x="717" y="405.3" width="17.6" height="8.2" rx="0" stroke="#2a2a2a" stroke-width="1" fill="#ffffff"/>
<rect x="717" y="405.3" width="17.6" height="2.2" rx="0" stroke="#2a2a2a" stroke-width="0" fill="#1e1e1e"/>
<rect x="717.6" y="410.7" width="16.4" height="2.4" rx="0" stroke="#2a2a2a" stroke-width="0" fill="#dcdcdc"/>
<line x1="717" y1="410.3" x2="734.6" y2="410.3" stroke="#333" stroke-width="0.9"/>
<rect x="826.6" y="405.3" width="17.6" height="8.2" rx="0" stroke="#2a2a2a" stroke-width="1" fill="#ffffff"/>
<rect x="826.6" y="405.3" width="17.6" height="2.2" rx="0" stroke="#2a2a2a" stroke-width="0" fill="#1e1e1e"/>
<rect x="827.2" y="410.7" width="16.4" height="2.4" rx="0" stroke="#2a2a2a" stroke-width="0" fill="#dcdcdc"/>
<line x1="826.6" y1="410.3" x2="844.2" y2="410.3" stroke="#333" stroke-width="0.9"/>
<path d="M4.5,424.3 H926.3 Q928,424.3 928,426 V427.7 H2.6 V426 Q2.6,424.3 4.5,424.3 Z" stroke="#888" stroke-width="1" fill="#c2c2c2" />
<line x1="10.5" y1="424.2" x2="10.5" y2="428" stroke="#2a2a2a" stroke-width="1"/>
<line x1="919.7" y1="424.3" x2="919.7" y2="428" stroke="#666" stroke-width="1"/>
<line x1="860.6" y1="361.6" x2="959" y2="361.6" stroke="#2a2a2a" stroke-width="1"/>
<line x1="954.2" y1="361.6" x2="954.2" y2="428" stroke="#2a2a2a" stroke-width="1"/>
<polygon points="954.2,362.1 952.7,369.1 955.7,369.1" fill="#2a2a2a"/>
<polygon points="954.2,427.5 952.7,420.5 955.7,420.5" fill="#2a2a2a"/>
<rect x="940" y="388" width="29" height="12" rx="0" stroke="#2a2a2a" stroke-width="0" fill="#fff"/>
<text x="940.6" y="398" font-size="11" font-weight="normal" text-anchor="start" textLength="28.8" lengthAdjust="spacingAndGlyphs">33,70</text>
</svg></body></html>
